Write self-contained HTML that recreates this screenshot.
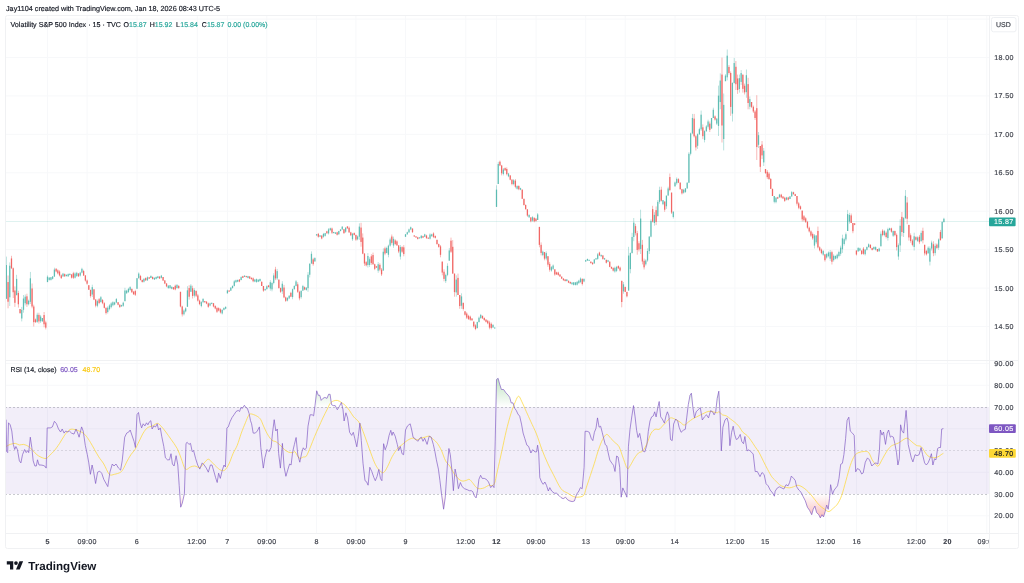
<!DOCTYPE html>
<html><head><meta charset="utf-8"><title>VIX chart</title>
<style>html,body{margin:0;padding:0;background:#fff;width:1024px;height:583px;overflow:hidden}svg{display:block}text{stroke-width:0.16px;text-rendering:geometricPrecision}</style>
</head><body>
<svg width="1024" height="583" viewBox="0 0 1024 583">
<defs>
<clipPath id="cm"><rect x="6" y="16" width="983" height="344"/></clipPath>
<clipPath id="cr"><rect x="6" y="361" width="983" height="172"/></clipPath>
<clipPath id="ct"><rect x="6" y="534" width="983" height="14"/></clipPath>
<linearGradient id="gos" x1="0" y1="494" x2="0" y2="540" gradientUnits="userSpaceOnUse"><stop offset="0" stop-color="#ef5350" stop-opacity="0"/><stop offset="1" stop-color="#ef5350" stop-opacity="0.75"/></linearGradient>
<linearGradient id="gob" x1="0" y1="407" x2="0" y2="370" gradientUnits="userSpaceOnUse"><stop offset="0" stop-color="#4caf50" stop-opacity="0"/><stop offset="1" stop-color="#4caf50" stop-opacity="0.45"/></linearGradient>
</defs>
<rect width="1024" height="583" fill="#fff"/>
<line x1="47.5" y1="16" x2="47.5" y2="533" stroke="#f7f8fa" stroke-width="1"/>
<line x1="87.1" y1="16" x2="87.1" y2="533" stroke="#f7f8fa" stroke-width="1"/>
<line x1="137" y1="16" x2="137" y2="533" stroke="#f7f8fa" stroke-width="1"/>
<line x1="197.3" y1="16" x2="197.3" y2="533" stroke="#f7f8fa" stroke-width="1"/>
<line x1="227.4" y1="16" x2="227.4" y2="533" stroke="#f7f8fa" stroke-width="1"/>
<line x1="266.8" y1="16" x2="266.8" y2="533" stroke="#f7f8fa" stroke-width="1"/>
<line x1="316.6" y1="16" x2="316.6" y2="533" stroke="#f7f8fa" stroke-width="1"/>
<line x1="355.9" y1="16" x2="355.9" y2="533" stroke="#f7f8fa" stroke-width="1"/>
<line x1="405.5" y1="16" x2="405.5" y2="533" stroke="#f7f8fa" stroke-width="1"/>
<line x1="465.8" y1="16" x2="465.8" y2="533" stroke="#f7f8fa" stroke-width="1"/>
<line x1="496.5" y1="16" x2="496.5" y2="533" stroke="#f7f8fa" stroke-width="1"/>
<line x1="536.1" y1="16" x2="536.1" y2="533" stroke="#f7f8fa" stroke-width="1"/>
<line x1="585.7" y1="16" x2="585.7" y2="533" stroke="#f7f8fa" stroke-width="1"/>
<line x1="625.2" y1="16" x2="625.2" y2="533" stroke="#f7f8fa" stroke-width="1"/>
<line x1="675" y1="16" x2="675" y2="533" stroke="#f7f8fa" stroke-width="1"/>
<line x1="734.9" y1="16" x2="734.9" y2="533" stroke="#f7f8fa" stroke-width="1"/>
<line x1="765.5" y1="16" x2="765.5" y2="533" stroke="#f7f8fa" stroke-width="1"/>
<line x1="825.7" y1="16" x2="825.7" y2="533" stroke="#f7f8fa" stroke-width="1"/>
<line x1="856.4" y1="16" x2="856.4" y2="533" stroke="#f7f8fa" stroke-width="1"/>
<line x1="916.3" y1="16" x2="916.3" y2="533" stroke="#f7f8fa" stroke-width="1"/>
<line x1="947.4" y1="16" x2="947.4" y2="533" stroke="#f7f8fa" stroke-width="1"/>
<line x1="986.8" y1="16" x2="986.8" y2="533" stroke="#f7f8fa" stroke-width="1"/>
<line x1="6" y1="19.07" x2="989" y2="19.07" stroke="#f7f8fa" stroke-width="1"/>
<line x1="6" y1="57.50" x2="989" y2="57.50" stroke="#f7f8fa" stroke-width="1"/>
<line x1="6" y1="95.93" x2="989" y2="95.93" stroke="#f7f8fa" stroke-width="1"/>
<line x1="6" y1="134.36" x2="989" y2="134.36" stroke="#f7f8fa" stroke-width="1"/>
<line x1="6" y1="172.79" x2="989" y2="172.79" stroke="#f7f8fa" stroke-width="1"/>
<line x1="6" y1="211.21" x2="989" y2="211.21" stroke="#f7f8fa" stroke-width="1"/>
<line x1="6" y1="249.64" x2="989" y2="249.64" stroke="#f7f8fa" stroke-width="1"/>
<line x1="6" y1="288.07" x2="989" y2="288.07" stroke="#f7f8fa" stroke-width="1"/>
<line x1="6" y1="326.50" x2="989" y2="326.50" stroke="#f7f8fa" stroke-width="1"/>
<line x1="6" y1="363.50" x2="989" y2="363.50" stroke="#f7f8fa" stroke-width="1"/>
<line x1="6" y1="385.25" x2="989" y2="385.25" stroke="#f7f8fa" stroke-width="1"/>
<line x1="6" y1="428.75" x2="989" y2="428.75" stroke="#f7f8fa" stroke-width="1"/>
<line x1="6" y1="472.25" x2="989" y2="472.25" stroke="#f7f8fa" stroke-width="1"/>
<line x1="6" y1="515.75" x2="989" y2="515.75" stroke="#f7f8fa" stroke-width="1"/>
<rect x="6" y="407" width="983" height="87" fill="#7e57c2" fill-opacity="0.1"/>
<line x1="5" y1="407.5" x2="989" y2="407.5" stroke="#787b86" stroke-opacity="0.4" stroke-width="1" stroke-dasharray="2 2"/>
<line x1="5" y1="450.5" x2="989" y2="450.5" stroke="#787b86" stroke-opacity="0.22" stroke-width="1" stroke-dasharray="2 2"/>
<line x1="5" y1="494.5" x2="989" y2="494.5" stroke="#787b86" stroke-opacity="0.4" stroke-width="1" stroke-dasharray="2 2"/>
<polygon points="179.82,494.50 180.70,507.20 182.30,503.10 184.24,494.50" fill="url(#gos)"/>
<polygon points="441.60,494.50 443.60,509.20 445.20,497.90 445.42,494.50" fill="url(#gos)"/>
<polygon points="473.87,494.50 474.40,495.90 476.10,497.90 476.76,494.50" fill="url(#gos)"/>
<polygon points="557.86,494.50 558.80,495.40 561.00,497.60 563.20,498.70 565.50,497.20 567.70,499.90 569.90,501.00 572.20,501.60 574.40,501.00 576.53,494.50" fill="url(#gos)"/>
<polygon points="621.06,494.50 621.20,497.20 621.66,494.50" fill="url(#gos)"/>
<polygon points="625.85,494.50 626.90,497.20 626.98,494.50" fill="url(#gos)"/>
<polygon points="773.47,494.50 774.40,496.20 774.67,494.50" fill="url(#gos)"/>
<polygon points="802.12,494.50 803.10,496.50 805.30,500.80 807.40,507.20 809.60,510.40 811.70,514.70 813.20,509.30 814.90,506.10 816.60,512.60 818.80,514.70 820.30,517.90 822.00,514.70 823.50,516.90 825.20,511.50 826.70,505.10 828.20,509.30 829.50,498.60 829.82,494.50" fill="url(#gos)"/>
<polygon points="243.25,407.00 244.40,405.30 245.53,407.00" fill="url(#gob)"/>
<polygon points="314.81,407.00 315.00,405.60 316.70,390.80 318.30,395.30 319.80,395.30 321.20,400.40 322.90,398.40 324.90,397.40 327.00,398.40 328.60,394.30 330.10,394.30 331.50,404.60 333.20,405.60 335.20,405.60 335.92,407.00" fill="url(#gob)"/>
<polygon points="339.04,407.00 339.30,406.60 341.40,402.50 342.40,407.00" fill="url(#gob)"/>
<polygon points="495.93,407.00 496.50,379.50 498.10,378.30 499.60,383.90 501.40,389.50 503.60,389.50 505.90,392.80 508.10,395.10 509.70,397.30 511.20,402.90 513.00,402.90 514.34,407.00" fill="url(#gob)"/>
<polygon points="633.28,407.00 633.50,405.60 633.70,407.00" fill="url(#gob)"/>
<polygon points="657.94,407.00 659.20,401.50 659.74,407.00" fill="url(#gob)"/>
<polygon points="688.01,407.00 688.30,404.60 690.00,395.30 691.40,393.20 692.84,407.00" fill="url(#gob)"/>
<polygon points="716.24,407.00 717.20,398.40 718.80,391.20 719.70,407.00" fill="url(#gob)"/>
<g clip-path="url(#cr)">
<path fill="none" stroke="#fdd835" stroke-opacity="0.8" stroke-width="0.9" d="M6.10,446.50 C6.78,446.15 8.67,444.92 10.20,444.40 C11.73,443.88 13.77,443.30 15.30,443.40 C16.83,443.50 18.03,444.83 19.40,445.00 C20.77,445.17 21.95,444.15 23.50,444.40 C25.05,444.65 27.15,445.47 28.70,446.50 C30.25,447.53 31.43,449.23 32.80,450.60 C34.17,451.97 35.53,453.60 36.90,454.70 C38.27,455.80 39.45,456.58 41.00,457.20 C42.55,457.82 44.65,458.82 46.20,458.40 C47.75,457.98 48.93,456.00 50.30,454.70 C51.67,453.40 52.85,452.48 54.40,450.60 C55.95,448.72 57.88,445.98 59.60,443.40 C61.32,440.82 63.00,437.40 64.70,435.10 C66.40,432.80 68.08,430.52 69.80,429.60 C71.52,428.68 73.45,429.37 75.00,429.60 C76.55,429.83 77.73,430.42 79.10,431.00 C80.47,431.58 82.00,432.23 83.20,433.10 C84.40,433.97 85.10,434.67 86.30,436.20 C87.50,437.73 89.03,440.08 90.40,442.30 C91.77,444.52 93.12,447.08 94.50,449.50 C95.88,451.92 97.15,454.38 98.70,456.80 C100.25,459.22 102.03,461.08 103.80,464.00 C105.57,466.92 107.53,472.58 109.30,474.30 C111.07,476.02 112.52,474.65 114.40,474.30 C116.28,473.95 119.05,473.23 120.60,472.20 C122.15,471.17 122.68,469.82 123.70,468.10 C124.72,466.38 125.50,464.13 126.70,461.90 C127.90,459.67 129.52,456.77 130.90,454.70 C132.28,452.63 133.63,451.73 135.00,449.50 C136.37,447.27 137.73,444.03 139.10,441.30 C140.47,438.57 141.83,435.33 143.20,433.10 C144.57,430.87 145.75,429.10 147.30,427.90 C148.85,426.70 150.78,426.65 152.50,425.90 C154.22,425.15 156.07,423.23 157.60,423.40 C159.13,423.57 160.33,425.47 161.70,426.90 C163.07,428.33 164.25,429.93 165.80,432.00 C167.35,434.07 169.10,436.55 171.00,439.30 C172.90,442.05 175.48,445.25 177.20,448.50 C178.92,451.75 179.93,455.37 181.30,458.80 C182.67,462.23 183.87,467.73 185.40,469.10 C186.93,470.47 188.95,467.52 190.50,467.00 C192.05,466.48 193.15,465.92 194.70,466.00 C196.25,466.08 198.22,468.02 199.80,467.50 C201.38,466.98 202.78,464.28 204.20,462.90 C205.62,461.52 206.92,459.20 208.30,459.20 C209.68,459.20 211.12,461.60 212.50,462.90 C213.88,464.20 215.23,465.80 216.60,467.00 C217.97,468.20 219.33,469.58 220.70,470.10 C222.07,470.62 223.43,471.12 224.80,470.10 C226.17,469.08 227.53,466.73 228.90,464.00 C230.27,461.27 231.62,456.80 233.00,453.70 C234.38,450.60 235.82,448.83 237.20,445.40 C238.58,441.97 239.93,436.87 241.30,433.10 C242.67,429.33 244.20,425.72 245.40,422.80 C246.60,419.88 247.65,417.08 248.50,415.60 C249.35,414.12 249.65,414.07 250.50,413.90 C251.35,413.73 252.40,414.15 253.60,414.60 C254.80,415.05 256.50,415.75 257.70,416.60 C258.90,417.45 259.77,417.98 260.80,419.70 C261.83,421.42 262.70,424.33 263.90,426.90 C265.10,429.47 266.63,432.87 268.00,435.10 C269.37,437.33 270.73,439.17 272.10,440.30 C273.47,441.43 274.82,441.05 276.20,441.90 C277.58,442.75 279.02,444.13 280.40,445.40 C281.78,446.67 283.13,448.37 284.50,449.50 C285.87,450.63 287.23,451.68 288.60,452.20 C289.97,452.72 291.62,452.65 292.70,452.60 C293.78,452.55 294.02,450.98 295.10,451.90 C296.18,452.82 297.83,457.25 299.20,458.10 C300.57,458.95 302.10,457.35 303.30,457.00 C304.50,456.65 305.20,457.70 306.40,456.00 C307.60,454.30 309.13,450.05 310.50,446.80 C311.87,443.55 313.23,439.77 314.60,436.50 C315.97,433.23 317.32,430.30 318.70,427.20 C320.08,424.10 321.52,420.82 322.90,417.90 C324.28,414.98 325.80,412.10 327.00,409.70 C328.20,407.30 329.07,404.93 330.10,403.50 C331.13,402.07 332.00,401.62 333.20,401.10 C334.40,400.58 335.93,400.17 337.30,400.40 C338.67,400.63 340.03,401.63 341.40,402.50 C342.77,403.37 344.13,404.23 345.50,405.60 C346.87,406.97 348.23,408.82 349.60,410.70 C350.97,412.58 352.15,415.00 353.70,416.90 C355.25,418.80 357.35,419.70 358.90,422.10 C360.45,424.50 361.63,427.88 363.00,431.30 C364.37,434.72 365.73,438.82 367.10,442.60 C368.47,446.38 369.83,450.38 371.20,454.00 C372.57,457.62 373.92,461.57 375.30,464.30 C376.68,467.03 378.12,469.03 379.50,470.40 C380.88,471.77 382.23,473.18 383.60,472.50 C384.97,471.82 386.28,468.92 387.70,466.30 C389.12,463.68 390.50,459.70 392.10,456.80 C393.70,453.90 395.58,450.97 397.30,448.90 C399.02,446.83 400.70,445.83 402.40,444.40 C404.10,442.97 405.78,441.33 407.50,440.30 C409.22,439.27 411.15,438.27 412.70,438.20 C414.25,438.13 415.43,439.90 416.80,439.90 C418.17,439.90 419.53,438.65 420.90,438.20 C422.27,437.75 423.62,437.53 425.00,437.20 C426.38,436.87 427.82,435.85 429.20,436.20 C430.58,436.55 431.93,438.10 433.30,439.30 C434.67,440.50 436.03,441.52 437.40,443.40 C438.77,445.28 440.13,447.68 441.50,450.60 C442.87,453.52 444.23,458.33 445.60,460.90 C446.97,463.47 448.33,463.95 449.70,466.00 C451.07,468.05 452.42,471.13 453.80,473.20 C455.18,475.27 456.62,477.10 458.00,478.40 C459.38,479.70 460.73,480.67 462.10,481.00 C463.47,481.33 465.00,480.67 466.20,480.40 C467.40,480.13 468.27,479.05 469.30,479.40 C470.33,479.75 471.20,481.13 472.40,482.50 C473.60,483.87 475.13,486.57 476.50,487.60 C477.87,488.63 479.23,488.70 480.60,488.70 C481.97,488.70 483.38,488.15 484.70,487.60 C486.02,487.05 486.95,485.95 488.50,485.40 C490.05,484.85 492.52,486.72 494.00,484.30 C495.48,481.88 496.08,476.48 497.40,470.90 C498.72,465.32 500.42,457.50 501.90,450.80 C503.38,444.10 504.82,436.83 506.30,430.70 C507.78,424.57 509.30,418.82 510.80,414.00 C512.30,409.18 514.00,404.77 515.30,401.80 C516.60,398.83 517.50,396.20 518.60,396.20 C519.70,396.20 520.60,399.20 521.90,401.80 C523.20,404.40 524.90,408.47 526.40,411.80 C527.90,415.13 529.22,418.08 530.90,421.80 C532.58,425.52 534.65,429.45 536.50,434.10 C538.35,438.75 540.15,444.87 542.00,449.70 C543.85,454.53 545.73,459.02 547.60,463.10 C549.47,467.18 550.97,469.93 553.20,474.20 C555.43,478.47 558.58,485.53 561.00,488.70 C563.42,491.87 565.65,491.90 567.70,493.20 C569.75,494.50 571.62,495.83 573.30,496.50 C574.98,497.17 576.08,497.38 577.80,497.20 C579.52,497.02 582.20,496.95 583.60,495.40 C585.00,493.85 585.08,491.20 586.20,487.90 C587.32,484.60 588.93,479.72 590.30,475.60 C591.67,471.48 593.03,467.50 594.40,463.20 C595.77,458.90 597.13,453.75 598.50,449.80 C599.87,445.85 601.23,442.07 602.60,439.50 C603.97,436.93 605.32,434.57 606.70,434.40 C608.08,434.23 609.52,437.13 610.90,438.50 C612.28,439.87 613.63,441.22 615.00,442.60 C616.37,443.98 617.73,444.22 619.10,446.80 C620.47,449.38 621.83,454.50 623.20,458.10 C624.57,461.70 626.10,467.20 627.30,468.40 C628.50,469.60 629.20,467.02 630.40,465.30 C631.60,463.58 633.13,460.17 634.50,458.10 C635.87,456.03 637.22,454.10 638.60,452.90 C639.98,451.70 641.42,452.43 642.80,450.90 C644.18,449.37 645.53,446.62 646.90,443.70 C648.27,440.78 649.63,435.80 651.00,433.40 C652.37,431.00 653.73,429.98 655.10,429.30 C656.47,428.62 657.83,430.00 659.20,429.30 C660.57,428.60 661.93,426.48 663.30,425.10 C664.67,423.72 666.20,422.20 667.40,421.00 C668.60,419.80 669.28,418.23 670.50,417.90 C671.72,417.57 673.10,418.30 674.70,419.00 C676.30,419.70 678.52,421.08 680.10,422.10 C681.68,423.12 682.83,425.10 684.20,425.10 C685.57,425.10 686.92,423.12 688.30,422.10 C689.68,421.08 691.12,419.87 692.50,419.00 C693.88,418.13 695.23,417.60 696.60,416.90 C697.97,416.20 699.33,415.48 700.70,414.80 C702.07,414.12 703.43,413.38 704.80,412.80 C706.17,412.22 707.53,411.47 708.90,411.30 C710.27,411.13 711.62,411.55 713.00,411.80 C714.38,412.05 716.17,412.80 717.20,412.80 C718.23,412.80 718.35,411.47 719.20,411.80 C720.05,412.13 721.10,414.12 722.30,414.80 C723.50,415.48 725.03,415.20 726.40,415.90 C727.77,416.60 729.13,417.97 730.50,419.00 C731.87,420.03 733.22,420.90 734.60,422.10 C735.98,423.30 737.42,424.50 738.80,426.20 C740.18,427.90 741.53,430.77 742.90,432.30 C744.27,433.83 745.63,434.02 747.00,435.40 C748.37,436.78 749.73,438.70 751.10,440.60 C752.47,442.50 753.83,444.75 755.20,446.80 C756.57,448.85 757.93,450.50 759.30,452.90 C760.67,455.30 762.02,458.45 763.40,461.20 C764.78,463.95 766.22,466.83 767.60,469.40 C768.98,471.97 770.43,474.77 771.70,476.60 C772.97,478.43 773.90,479.05 775.20,480.40 C776.50,481.75 778.07,483.63 779.50,484.70 C780.93,485.77 782.18,486.27 783.80,486.80 C785.42,487.33 787.58,487.90 789.20,487.90 C790.82,487.90 792.07,487.23 793.50,486.80 C794.93,486.37 796.38,485.30 797.80,485.30 C799.22,485.30 800.58,486.02 802.00,486.80 C803.42,487.58 804.87,488.75 806.30,490.00 C807.73,491.25 809.17,492.68 810.60,494.30 C812.03,495.92 813.47,497.90 814.90,499.70 C816.33,501.50 817.58,503.50 819.20,505.10 C820.82,506.70 822.98,508.23 824.60,509.30 C826.22,510.37 827.47,511.67 828.90,511.50 C830.33,511.33 831.77,509.55 833.20,508.30 C834.63,507.05 836.08,506.15 837.50,504.00 C838.92,501.85 840.28,499.33 841.70,495.40 C843.12,491.47 844.57,485.40 846.00,480.40 C847.43,475.40 848.87,469.52 850.30,465.40 C851.73,461.28 853.17,457.85 854.60,455.70 C856.03,453.55 857.28,453.20 858.90,452.50 C860.52,451.80 862.68,451.50 864.30,451.50 C865.92,451.50 867.28,451.12 868.60,452.50 C869.92,453.88 871.08,457.88 872.20,459.80 C873.32,461.72 874.28,462.97 875.30,464.00 C876.32,465.03 877.10,466.87 878.30,466.00 C879.50,465.13 881.12,461.20 882.50,458.80 C883.88,456.40 885.23,453.65 886.60,451.60 C887.97,449.55 889.33,447.70 890.70,446.50 C892.07,445.30 893.43,445.02 894.80,444.40 C896.17,443.78 897.53,443.55 898.90,442.80 C900.27,442.05 901.62,440.67 903.00,439.90 C904.38,439.13 905.82,437.97 907.20,438.20 C908.58,438.43 909.77,440.10 911.30,441.30 C912.83,442.50 914.77,444.53 916.40,445.40 C918.03,446.27 919.73,445.47 921.10,446.50 C922.47,447.53 923.50,450.07 924.60,451.60 C925.70,453.13 926.67,454.77 927.70,455.70 C928.73,456.63 929.77,456.85 930.80,457.20 C931.83,457.55 932.70,457.87 933.90,457.80 C935.10,457.73 936.80,457.32 938.00,456.80 C939.20,456.28 940.20,455.28 941.10,454.70 C942.00,454.12 943.02,453.53 943.40,453.30"/>
<polyline fill="none" stroke="#7e57c2" stroke-opacity="0.75" stroke-width="0.9" stroke-linejoin="round" points="6.10,419.70 6.70,451.60 7.70,452.60 8.50,422.80 10.20,424.80 11.80,431.00 13.30,444.40 14.70,449.50 15.90,446.50 17.40,449.50 19.40,460.90 20.90,462.90 22.50,454.70 24.60,449.50 26.20,452.60 27.70,450.60 28.70,452.60 30.30,437.20 31.80,447.50 33.20,460.90 34.90,466.00 36.30,466.00 37.50,459.80 39.00,465.00 41.00,465.00 43.10,465.40 44.70,466.00 46.20,468.10 47.20,427.90 50.30,427.90 52.40,426.90 54.40,421.30 56.50,423.80 58.50,429.00 60.60,432.00 62.20,429.00 64.10,433.10 65.70,431.00 67.80,432.00 69.40,431.00 71.50,433.10 74.00,434.10 76.00,429.00 77.70,433.10 79.10,437.20 81.60,426.90 83.20,431.00 85.30,445.40 87.30,454.70 88.80,462.90 90.40,474.30 92.10,465.00 93.50,471.20 95.60,483.50 97.60,472.20 99.70,471.20 101.70,473.20 103.80,479.40 107.80,486.60 109.90,472.20 112.30,464.00 114.00,466.00 116.00,464.00 118.50,468.10 120.60,470.10 122.20,460.90 124.70,437.20 126.70,433.10 128.80,432.00 130.20,430.00 131.90,435.10 134.00,441.30 135.40,447.50 137.00,414.60 138.50,412.50 140.10,422.80 141.60,427.90 143.20,423.80 144.90,425.90 146.50,422.80 147.90,424.80 149.40,421.80 150.80,420.70 152.10,429.00 153.90,425.90 155.60,426.90 157.20,423.80 158.60,430.00 160.30,427.90 161.70,436.20 163.80,446.50 165.40,457.80 167.50,459.80 169.50,459.80 171.00,453.70 172.40,464.00 174.10,466.00 176.10,455.70 177.80,465.00 179.20,485.60 180.70,507.20 182.30,503.10 184.40,493.80 186.00,443.40 187.20,442.30 188.90,444.40 190.50,443.40 192.20,451.60 193.60,450.60 195.70,458.80 197.70,465.00 199.80,469.10 202.20,462.90 204.20,465.00 206.30,468.10 208.30,472.20 210.40,465.00 212.00,465.00 214.10,472.20 215.50,477.30 217.20,482.50 218.60,473.20 220.30,478.40 222.30,470.10 224.00,465.00 225.40,467.00 226.90,427.90 228.30,426.90 230.00,421.80 232.00,417.60 234.10,414.60 236.10,411.50 238.20,410.40 239.60,411.50 240.90,407.40 242.30,408.40 244.40,405.30 245.80,407.40 247.40,408.40 249.10,413.50 250.50,420.70 251.60,423.80 253.20,433.10 255.30,433.10 257.30,431.00 259.40,426.90 260.80,447.50 263.30,468.10 264.90,457.80 267.00,449.50 269.00,451.60 271.10,447.50 272.50,433.10 274.20,419.70 275.80,431.00 277.30,429.00 278.70,453.70 280.40,468.10 282.40,443.40 284.10,467.00 285.90,476.30 288.00,469.10 289.60,464.00 291.10,465.00 292.70,451.60 294.40,444.40 296.10,437.50 297.80,455.00 299.80,462.20 301.90,451.90 303.30,447.80 304.80,449.80 306.40,447.80 308.00,426.20 310.10,414.80 312.20,414.80 313.60,415.90 315.00,405.60 316.70,390.80 318.30,395.30 319.80,395.30 321.20,400.40 322.90,398.40 324.90,397.40 327.00,398.40 328.60,394.30 330.10,394.30 331.50,404.60 333.20,405.60 335.20,405.60 337.30,409.70 339.30,406.60 341.40,402.50 343.00,409.70 344.10,421.00 345.90,412.80 347.60,417.90 349.60,432.30 351.70,435.40 353.30,432.30 354.80,438.50 356.80,446.80 358.30,436.50 359.90,423.10 361.30,440.60 363.00,463.20 365.00,480.70 366.50,481.70 368.10,485.20 369.80,467.30 371.80,471.50 373.90,477.60 375.30,480.70 377.00,476.60 378.80,469.40 380.50,478.70 381.90,480.70 383.60,443.70 385.20,449.80 387.10,444.70 389.10,435.40 390.80,430.30 392.00,435.40 393.10,432.00 395.20,436.20 397.30,444.40 398.70,450.60 400.30,446.50 402.00,453.70 403.60,454.70 405.50,430.00 407.50,425.90 410.20,423.80 411.70,430.00 413.10,437.20 415.80,439.30 417.80,441.30 419.90,438.20 421.30,437.20 423.00,441.30 424.60,438.20 427.10,444.40 429.20,436.20 431.20,437.20 433.30,444.40 434.90,451.60 436.40,459.80 438.40,469.10 439.90,480.40 441.50,493.80 443.60,509.20 445.20,497.90 447.30,466.00 448.90,448.50 450.30,454.70 451.80,469.10 453.40,490.70 455.10,469.10 456.90,477.30 458.40,488.70 460.40,482.50 462.10,486.60 464.50,488.70 467.20,489.70 469.30,490.70 471.30,490.70 472.80,491.70 474.40,495.90 476.10,497.90 477.50,490.70 478.90,479.40 480.60,475.30 482.20,478.40 484.30,478.40 486.40,479.40 488.50,482.00 490.70,487.60 492.50,485.40 494.00,487.60 495.20,441.90 496.50,379.50 498.10,378.30 499.60,383.90 501.40,389.50 503.60,389.50 505.90,392.80 508.10,395.10 509.70,397.30 511.20,402.90 513.00,402.90 514.80,408.40 516.40,410.70 517.90,414.00 519.70,416.20 521.50,424.10 523.10,433.00 524.80,438.50 526.90,445.20 528.60,446.40 530.90,453.00 532.70,449.70 534.90,451.90 536.50,451.90 537.60,445.20 538.70,453.00 539.80,477.60 541.60,482.00 543.20,484.30 544.90,482.00 546.50,485.40 548.30,491.00 549.80,487.60 551.60,491.00 554.30,493.20 556.50,493.20 558.80,495.40 561.00,497.60 563.20,498.70 565.50,497.20 567.70,499.90 569.90,501.00 572.20,501.60 574.40,501.00 576.60,494.30 578.90,491.00 580.40,487.60 582.20,488.70 583.60,473.10 584.10,467.30 585.10,431.30 587.20,431.30 589.30,432.30 591.30,438.50 592.80,440.60 594.40,432.30 596.00,428.20 597.50,417.90 599.10,427.20 600.60,426.20 602.20,432.30 603.70,438.50 605.30,444.70 606.70,445.70 608.20,452.90 609.80,460.10 611.90,463.20 613.50,465.30 615.00,471.50 616.60,456.00 618.10,457.00 619.70,467.30 621.20,497.20 622.80,487.90 624.20,491.00 625.70,494.10 626.90,497.20 628.40,446.80 630.00,429.30 631.90,415.90 633.50,405.60 635.10,416.90 636.60,430.30 638.00,437.50 639.70,433.40 641.30,441.60 642.80,450.90 644.80,451.90 646.90,444.70 648.30,431.30 650.00,421.00 651.60,416.90 653.30,415.90 654.70,411.80 656.10,416.90 657.80,407.60 659.20,401.50 660.70,416.90 662.30,419.00 664.40,423.10 666.00,415.90 667.40,411.80 668.90,415.90 670.50,439.50 672.20,440.60 673.60,424.10 675.70,419.00 677.70,421.00 679.10,427.20 681.10,432.30 683.20,430.30 685.30,429.30 686.70,417.90 688.30,404.60 690.00,395.30 691.40,393.20 692.90,407.60 694.50,417.90 696.20,411.80 698.20,409.70 700.30,407.60 702.30,420.00 704.40,416.90 706.50,414.80 708.50,417.90 710.60,410.70 712.60,411.80 714.10,414.80 715.70,411.80 717.20,398.40 718.80,391.20 720.20,415.90 721.30,450.90 722.90,427.20 725.00,420.00 727.00,417.90 728.50,423.10 729.90,445.70 731.60,432.30 733.20,426.20 734.60,434.40 736.30,439.50 738.10,438.50 740.20,434.40 741.80,441.60 743.50,443.70 744.90,436.50 747.00,450.90 749.00,449.80 751.10,451.90 753.20,454.00 755.20,471.50 757.30,471.50 760.00,476.60 762.00,472.50 764.10,474.50 766.10,483.80 768.20,485.90 770.20,490.00 772.70,493.10 774.40,496.20 775.20,491.10 777.40,487.90 779.50,486.80 781.70,487.90 783.80,489.00 786.00,484.70 788.10,485.80 789.60,482.50 791.30,476.10 793.50,478.30 795.20,480.40 796.70,486.80 798.80,490.00 801.00,492.20 803.10,496.50 805.30,500.80 807.40,507.20 809.60,510.40 811.70,514.70 813.20,509.30 814.90,506.10 816.60,512.60 818.80,514.70 820.30,517.90 822.00,514.70 823.50,516.90 825.20,511.50 826.70,505.10 828.20,509.30 829.50,498.60 830.60,484.70 832.50,494.30 834.20,490.00 835.90,487.90 837.50,485.80 839.00,478.30 840.70,464.30 842.40,463.30 843.90,454.70 845.60,438.60 847.10,420.40 848.80,417.20 850.30,431.10 852.50,433.20 854.20,435.40 855.70,471.80 857.40,468.60 859.60,469.70 861.70,474.00 863.20,472.90 865.30,462.20 867.50,457.90 869.60,460.00 871.80,466.00 873.80,464.00 875.90,462.90 877.90,464.00 879.40,450.60 880.40,430.00 882.00,435.10 883.50,432.00 885.50,444.40 887.20,433.10 888.60,430.00 890.30,437.20 891.70,436.20 893.40,437.20 894.80,443.40 896.50,452.60 897.90,465.00 899.30,458.80 900.60,424.80 902.00,431.00 903.70,433.10 905.10,419.70 906.10,410.40 907.20,423.80 908.20,444.40 909.60,450.60 911.30,457.80 912.90,461.90 915.00,454.70 917.00,455.70 919.10,454.70 921.10,447.50 922.60,454.70 924.60,462.90 926.30,465.00 928.10,462.90 929.80,458.80 931.40,453.70 932.90,465.00 934.50,458.80 936.00,459.80 937.60,448.50 939.00,447.50 940.50,447.50 941.70,429.00 943.40,428.60"/>
</g>
<line x1="6" y1="221.5" x2="989" y2="221.5" stroke="#26a69a" stroke-opacity="0.15" stroke-width="1"/>
<g clip-path="url(#cm)">
<rect x="5.94" y="256.60" width="0.8" height="42.20" fill="#26a69a" fill-opacity="0.4"/>
<rect x="5.69" y="265.04" width="1.3" height="33.76" fill="#26a69a" fill-opacity="0.62"/>
<rect x="7.65" y="275.50" width="0.8" height="32.80" fill="#ef5350" fill-opacity="0.5"/>
<rect x="7.40" y="282.06" width="1.3" height="19.68" fill="#ef5350" fill-opacity="0.8"/>
<rect x="9.37" y="262.40" width="0.8" height="43.60" fill="#26a69a" fill-opacity="0.4"/>
<rect x="9.12" y="265.70" width="1.3" height="31.58" fill="#26a69a" fill-opacity="0.62"/>
<rect x="11.08" y="255.80" width="0.8" height="13.20" fill="#ef5350" fill-opacity="0.5"/>
<rect x="10.83" y="258.44" width="1.3" height="9.81" fill="#ef5350" fill-opacity="0.8"/>
<rect x="12.80" y="267.50" width="0.8" height="30.50" fill="#ef5350" fill-opacity="0.5"/>
<rect x="12.55" y="268.25" width="1.3" height="23.95" fill="#ef5350" fill-opacity="0.8"/>
<rect x="14.51" y="286.40" width="0.8" height="20.50" fill="#ef5350" fill-opacity="0.5"/>
<rect x="14.26" y="290.50" width="1.3" height="12.30" fill="#ef5350" fill-opacity="0.8"/>
<rect x="16.23" y="274.80" width="0.8" height="20.40" fill="#26a69a" fill-opacity="0.4"/>
<rect x="15.98" y="278.88" width="1.3" height="16.32" fill="#26a69a" fill-opacity="0.62"/>
<rect x="17.95" y="290.80" width="0.8" height="16.80" fill="#ef5350" fill-opacity="0.5"/>
<rect x="17.70" y="293.00" width="1.3" height="11.24" fill="#ef5350" fill-opacity="0.8"/>
<rect x="19.66" y="309.00" width="0.8" height="5.00" fill="#ef5350" fill-opacity="0.5"/>
<rect x="19.41" y="309.00" width="1.3" height="4.00" fill="#ef5350" fill-opacity="0.8"/>
<rect x="21.38" y="306.90" width="0.8" height="14.50" fill="#26a69a" fill-opacity="0.4"/>
<rect x="21.12" y="309.80" width="1.3" height="8.70" fill="#26a69a" fill-opacity="0.62"/>
<rect x="23.09" y="295.00" width="0.8" height="17.70" fill="#26a69a" fill-opacity="0.4"/>
<rect x="22.84" y="298.54" width="1.3" height="11.26" fill="#26a69a" fill-opacity="0.62"/>
<rect x="24.80" y="294.50" width="0.8" height="10.90" fill="#26a69a" fill-opacity="0.4"/>
<rect x="24.55" y="296.68" width="1.3" height="6.54" fill="#26a69a" fill-opacity="0.62"/>
<rect x="26.52" y="293.70" width="0.8" height="13.20" fill="#ef5350" fill-opacity="0.5"/>
<rect x="26.27" y="296.34" width="1.3" height="7.92" fill="#ef5350" fill-opacity="0.8"/>
<rect x="28.23" y="299.60" width="0.8" height="5.80" fill="#26a69a" fill-opacity="0.4"/>
<rect x="27.98" y="300.76" width="1.3" height="3.48" fill="#26a69a" fill-opacity="0.62"/>
<rect x="29.95" y="271.90" width="0.8" height="32.10" fill="#26a69a" fill-opacity="0.4"/>
<rect x="29.70" y="278.32" width="1.3" height="23.48" fill="#26a69a" fill-opacity="0.62"/>
<rect x="31.66" y="283.50" width="0.8" height="24.80" fill="#ef5350" fill-opacity="0.5"/>
<rect x="31.41" y="288.46" width="1.3" height="18.04" fill="#ef5350" fill-opacity="0.8"/>
<rect x="33.38" y="304.70" width="0.8" height="21.80" fill="#ef5350" fill-opacity="0.5"/>
<rect x="33.13" y="306.50" width="1.3" height="15.64" fill="#ef5350" fill-opacity="0.8"/>
<rect x="35.09" y="318.50" width="0.8" height="4.50" fill="#ef5350" fill-opacity="0.5"/>
<rect x="34.84" y="319.40" width="1.3" height="2.70" fill="#ef5350" fill-opacity="0.8"/>
<rect x="36.81" y="312.70" width="0.8" height="10.20" fill="#26a69a" fill-opacity="0.4"/>
<rect x="36.56" y="314.74" width="1.3" height="7.13" fill="#26a69a" fill-opacity="0.62"/>
<rect x="38.52" y="312.70" width="0.8" height="10.90" fill="#ef5350" fill-opacity="0.5"/>
<rect x="38.27" y="314.88" width="1.3" height="6.54" fill="#ef5350" fill-opacity="0.8"/>
<rect x="40.24" y="314.90" width="0.8" height="8.00" fill="#26a69a" fill-opacity="0.4"/>
<rect x="39.99" y="316.50" width="1.3" height="4.80" fill="#26a69a" fill-opacity="0.62"/>
<rect x="41.95" y="318.00" width="0.8" height="4.00" fill="#26a69a" fill-opacity="0.4"/>
<rect x="41.70" y="318.00" width="1.3" height="3.20" fill="#26a69a" fill-opacity="0.62"/>
<rect x="43.67" y="312.00" width="0.8" height="15.30" fill="#ef5350" fill-opacity="0.5"/>
<rect x="43.42" y="315.06" width="1.3" height="9.18" fill="#ef5350" fill-opacity="0.8"/>
<rect x="45.38" y="320.70" width="0.8" height="8.70" fill="#ef5350" fill-opacity="0.5"/>
<rect x="45.13" y="322.44" width="1.3" height="5.22" fill="#ef5350" fill-opacity="0.8"/>
<rect x="47.10" y="275.40" width="0.8" height="6.70" fill="#26a69a" fill-opacity="0.4"/>
<rect x="46.85" y="276.74" width="1.3" height="5.36" fill="#26a69a" fill-opacity="0.62"/>
<rect x="48.82" y="277.00" width="0.8" height="3.60" fill="#26a69a" fill-opacity="0.4"/>
<rect x="48.57" y="277.72" width="1.3" height="2.16" fill="#26a69a" fill-opacity="0.62"/>
<rect x="50.54" y="277.00" width="0.8" height="3.60" fill="#26a69a" fill-opacity="0.4"/>
<rect x="50.29" y="277.30" width="1.3" height="2.58" fill="#26a69a" fill-opacity="0.62"/>
<rect x="52.26" y="276.00" width="0.8" height="3.50" fill="#26a69a" fill-opacity="0.4"/>
<rect x="52.01" y="276.50" width="1.3" height="2.30" fill="#26a69a" fill-opacity="0.62"/>
<rect x="53.98" y="267.70" width="0.8" height="9.30" fill="#26a69a" fill-opacity="0.4"/>
<rect x="53.73" y="269.56" width="1.3" height="6.94" fill="#26a69a" fill-opacity="0.62"/>
<rect x="55.71" y="268.00" width="0.8" height="4.30" fill="#ef5350" fill-opacity="0.5"/>
<rect x="55.46" y="268.86" width="1.3" height="2.58" fill="#ef5350" fill-opacity="0.8"/>
<rect x="57.43" y="269.30" width="0.8" height="5.10" fill="#ef5350" fill-opacity="0.5"/>
<rect x="57.18" y="270.32" width="1.3" height="3.06" fill="#ef5350" fill-opacity="0.8"/>
<rect x="59.15" y="270.30" width="0.8" height="6.20" fill="#ef5350" fill-opacity="0.5"/>
<rect x="58.90" y="271.54" width="1.3" height="3.91" fill="#ef5350" fill-opacity="0.8"/>
<rect x="60.87" y="274.40" width="0.8" height="4.60" fill="#ef5350" fill-opacity="0.5"/>
<rect x="60.62" y="275.32" width="1.3" height="2.76" fill="#ef5350" fill-opacity="0.8"/>
<rect x="62.59" y="272.90" width="0.8" height="3.60" fill="#26a69a" fill-opacity="0.4"/>
<rect x="62.34" y="273.62" width="1.3" height="2.88" fill="#26a69a" fill-opacity="0.62"/>
<rect x="64.31" y="273.40" width="0.8" height="3.60" fill="#ef5350" fill-opacity="0.5"/>
<rect x="64.06" y="274.12" width="1.3" height="2.16" fill="#ef5350" fill-opacity="0.8"/>
<rect x="66.03" y="274.40" width="0.8" height="2.10" fill="#26a69a" fill-opacity="0.4"/>
<rect x="65.78" y="274.82" width="1.3" height="1.26" fill="#26a69a" fill-opacity="0.62"/>
<rect x="67.75" y="273.40" width="0.8" height="3.60" fill="#26a69a" fill-opacity="0.4"/>
<rect x="67.50" y="274.12" width="1.3" height="2.16" fill="#26a69a" fill-opacity="0.62"/>
<rect x="69.47" y="273.40" width="0.8" height="2.00" fill="#26a69a" fill-opacity="0.4"/>
<rect x="69.22" y="273.80" width="1.3" height="1.20" fill="#26a69a" fill-opacity="0.62"/>
<rect x="71.20" y="274.40" width="0.8" height="4.10" fill="#ef5350" fill-opacity="0.5"/>
<rect x="70.95" y="274.40" width="1.3" height="3.28" fill="#ef5350" fill-opacity="0.8"/>
<rect x="72.92" y="271.80" width="0.8" height="7.20" fill="#ef5350" fill-opacity="0.5"/>
<rect x="72.67" y="273.24" width="1.3" height="4.49" fill="#ef5350" fill-opacity="0.8"/>
<rect x="74.64" y="272.30" width="0.8" height="6.20" fill="#26a69a" fill-opacity="0.4"/>
<rect x="74.39" y="273.54" width="1.3" height="4.19" fill="#26a69a" fill-opacity="0.62"/>
<rect x="76.36" y="271.80" width="0.8" height="5.20" fill="#26a69a" fill-opacity="0.4"/>
<rect x="76.11" y="272.84" width="1.3" height="3.12" fill="#26a69a" fill-opacity="0.62"/>
<rect x="78.08" y="273.40" width="0.8" height="3.60" fill="#ef5350" fill-opacity="0.5"/>
<rect x="77.83" y="273.40" width="1.3" height="2.88" fill="#ef5350" fill-opacity="0.8"/>
<rect x="79.80" y="271.80" width="0.8" height="4.70" fill="#26a69a" fill-opacity="0.4"/>
<rect x="79.55" y="272.60" width="1.3" height="2.96" fill="#26a69a" fill-opacity="0.62"/>
<rect x="81.52" y="267.70" width="0.8" height="5.70" fill="#26a69a" fill-opacity="0.4"/>
<rect x="81.27" y="268.84" width="1.3" height="3.76" fill="#26a69a" fill-opacity="0.62"/>
<rect x="83.24" y="269.80" width="0.8" height="6.20" fill="#ef5350" fill-opacity="0.5"/>
<rect x="82.99" y="271.04" width="1.3" height="4.46" fill="#ef5350" fill-opacity="0.8"/>
<rect x="84.97" y="275.00" width="0.8" height="6.60" fill="#ef5350" fill-opacity="0.5"/>
<rect x="84.72" y="275.50" width="1.3" height="5.05" fill="#ef5350" fill-opacity="0.8"/>
<rect x="86.69" y="279.50" width="0.8" height="5.20" fill="#ef5350" fill-opacity="0.5"/>
<rect x="86.44" y="280.54" width="1.3" height="3.12" fill="#ef5350" fill-opacity="0.8"/>
<rect x="88.41" y="285.20" width="0.8" height="4.60" fill="#ef5350" fill-opacity="0.5"/>
<rect x="88.16" y="285.20" width="1.3" height="4.60" fill="#ef5350" fill-opacity="0.8"/>
<rect x="90.13" y="289.80" width="0.8" height="7.80" fill="#ef5350" fill-opacity="0.5"/>
<rect x="89.88" y="289.80" width="1.3" height="6.24" fill="#ef5350" fill-opacity="0.8"/>
<rect x="91.85" y="284.70" width="0.8" height="12.30" fill="#26a69a" fill-opacity="0.4"/>
<rect x="91.60" y="287.16" width="1.3" height="7.38" fill="#26a69a" fill-opacity="0.62"/>
<rect x="93.57" y="289.30" width="0.8" height="10.80" fill="#ef5350" fill-opacity="0.5"/>
<rect x="93.32" y="289.30" width="1.3" height="10.25" fill="#ef5350" fill-opacity="0.8"/>
<rect x="95.29" y="299.00" width="0.8" height="8.30" fill="#ef5350" fill-opacity="0.5"/>
<rect x="95.04" y="299.55" width="1.3" height="6.09" fill="#ef5350" fill-opacity="0.8"/>
<rect x="97.01" y="299.60" width="0.8" height="7.70" fill="#26a69a" fill-opacity="0.4"/>
<rect x="96.76" y="301.14" width="1.3" height="4.62" fill="#26a69a" fill-opacity="0.62"/>
<rect x="98.73" y="298.00" width="0.8" height="6.20" fill="#ef5350" fill-opacity="0.5"/>
<rect x="98.48" y="299.24" width="1.3" height="3.81" fill="#ef5350" fill-opacity="0.8"/>
<rect x="100.46" y="296.00" width="0.8" height="6.20" fill="#26a69a" fill-opacity="0.4"/>
<rect x="100.21" y="297.24" width="1.3" height="4.96" fill="#26a69a" fill-opacity="0.62"/>
<rect x="102.18" y="299.00" width="0.8" height="5.20" fill="#ef5350" fill-opacity="0.5"/>
<rect x="101.93" y="300.04" width="1.3" height="3.16" fill="#ef5350" fill-opacity="0.8"/>
<rect x="103.90" y="302.20" width="0.8" height="6.20" fill="#ef5350" fill-opacity="0.5"/>
<rect x="103.65" y="303.20" width="1.3" height="4.65" fill="#ef5350" fill-opacity="0.8"/>
<rect x="105.62" y="307.30" width="0.8" height="7.20" fill="#ef5350" fill-opacity="0.5"/>
<rect x="105.37" y="307.85" width="1.3" height="5.21" fill="#ef5350" fill-opacity="0.8"/>
<rect x="107.34" y="306.30" width="0.8" height="7.20" fill="#26a69a" fill-opacity="0.4"/>
<rect x="107.09" y="307.74" width="1.3" height="4.32" fill="#26a69a" fill-opacity="0.62"/>
<rect x="109.06" y="304.20" width="0.8" height="6.20" fill="#26a69a" fill-opacity="0.4"/>
<rect x="108.81" y="305.44" width="1.3" height="3.72" fill="#26a69a" fill-opacity="0.62"/>
<rect x="110.78" y="302.20" width="0.8" height="6.20" fill="#26a69a" fill-opacity="0.4"/>
<rect x="110.53" y="303.44" width="1.3" height="3.72" fill="#26a69a" fill-opacity="0.62"/>
<rect x="112.50" y="301.20" width="0.8" height="5.10" fill="#26a69a" fill-opacity="0.4"/>
<rect x="112.25" y="302.22" width="1.3" height="3.06" fill="#26a69a" fill-opacity="0.62"/>
<rect x="114.22" y="301.70" width="0.8" height="3.60" fill="#26a69a" fill-opacity="0.4"/>
<rect x="113.97" y="302.42" width="1.3" height="2.16" fill="#26a69a" fill-opacity="0.62"/>
<rect x="115.95" y="298.00" width="0.8" height="5.20" fill="#26a69a" fill-opacity="0.4"/>
<rect x="115.70" y="299.04" width="1.3" height="3.41" fill="#26a69a" fill-opacity="0.62"/>
<rect x="117.67" y="302.20" width="0.8" height="3.10" fill="#ef5350" fill-opacity="0.5"/>
<rect x="117.42" y="302.20" width="1.3" height="2.55" fill="#ef5350" fill-opacity="0.8"/>
<rect x="119.39" y="304.20" width="0.8" height="3.60" fill="#ef5350" fill-opacity="0.5"/>
<rect x="119.14" y="304.75" width="1.3" height="2.33" fill="#ef5350" fill-opacity="0.8"/>
<rect x="121.11" y="304.70" width="0.8" height="2.10" fill="#26a69a" fill-opacity="0.4"/>
<rect x="120.86" y="305.12" width="1.3" height="1.26" fill="#26a69a" fill-opacity="0.62"/>
<rect x="122.83" y="301.70" width="0.8" height="5.10" fill="#26a69a" fill-opacity="0.4"/>
<rect x="122.58" y="302.72" width="1.3" height="3.06" fill="#26a69a" fill-opacity="0.62"/>
<rect x="124.55" y="287.80" width="0.8" height="13.40" fill="#26a69a" fill-opacity="0.4"/>
<rect x="124.30" y="290.48" width="1.3" height="10.72" fill="#26a69a" fill-opacity="0.62"/>
<rect x="126.27" y="289.80" width="0.8" height="4.20" fill="#26a69a" fill-opacity="0.4"/>
<rect x="126.02" y="290.64" width="1.3" height="2.52" fill="#26a69a" fill-opacity="0.62"/>
<rect x="127.99" y="287.80" width="0.8" height="5.20" fill="#26a69a" fill-opacity="0.4"/>
<rect x="127.74" y="288.84" width="1.3" height="3.12" fill="#26a69a" fill-opacity="0.62"/>
<rect x="129.72" y="286.20" width="0.8" height="4.70" fill="#26a69a" fill-opacity="0.4"/>
<rect x="129.47" y="287.14" width="1.3" height="2.82" fill="#26a69a" fill-opacity="0.62"/>
<rect x="131.44" y="288.80" width="0.8" height="4.20" fill="#ef5350" fill-opacity="0.5"/>
<rect x="131.19" y="288.80" width="1.3" height="3.36" fill="#ef5350" fill-opacity="0.8"/>
<rect x="133.16" y="290.90" width="0.8" height="4.10" fill="#ef5350" fill-opacity="0.5"/>
<rect x="132.91" y="291.72" width="1.3" height="2.46" fill="#ef5350" fill-opacity="0.8"/>
<rect x="134.88" y="289.80" width="0.8" height="6.20" fill="#ef5350" fill-opacity="0.5"/>
<rect x="134.63" y="291.04" width="1.3" height="3.72" fill="#ef5350" fill-opacity="0.8"/>
<rect x="136.60" y="278.00" width="0.8" height="10.80" fill="#26a69a" fill-opacity="0.4"/>
<rect x="136.35" y="278.25" width="1.3" height="10.55" fill="#26a69a" fill-opacity="0.62"/>
<rect x="138.34" y="272.30" width="0.8" height="6.20" fill="#26a69a" fill-opacity="0.4"/>
<rect x="138.09" y="273.54" width="1.3" height="4.71" fill="#26a69a" fill-opacity="0.62"/>
<rect x="140.08" y="274.90" width="0.8" height="5.60" fill="#ef5350" fill-opacity="0.5"/>
<rect x="139.83" y="276.02" width="1.3" height="3.98" fill="#ef5350" fill-opacity="0.8"/>
<rect x="141.82" y="279.50" width="0.8" height="3.10" fill="#ef5350" fill-opacity="0.5"/>
<rect x="141.57" y="280.00" width="1.3" height="1.98" fill="#ef5350" fill-opacity="0.8"/>
<rect x="143.55" y="278.00" width="0.8" height="4.60" fill="#26a69a" fill-opacity="0.4"/>
<rect x="143.30" y="278.92" width="1.3" height="2.76" fill="#26a69a" fill-opacity="0.62"/>
<rect x="145.29" y="277.40" width="0.8" height="3.60" fill="#ef5350" fill-opacity="0.5"/>
<rect x="145.04" y="278.12" width="1.3" height="2.16" fill="#ef5350" fill-opacity="0.8"/>
<rect x="147.03" y="276.40" width="0.8" height="4.60" fill="#26a69a" fill-opacity="0.4"/>
<rect x="146.78" y="277.32" width="1.3" height="2.93" fill="#26a69a" fill-opacity="0.62"/>
<rect x="148.77" y="277.00" width="0.8" height="2.00" fill="#ef5350" fill-opacity="0.5"/>
<rect x="148.52" y="277.40" width="1.3" height="1.20" fill="#ef5350" fill-opacity="0.8"/>
<rect x="150.51" y="275.40" width="0.8" height="2.60" fill="#26a69a" fill-opacity="0.4"/>
<rect x="150.26" y="275.92" width="1.3" height="2.08" fill="#26a69a" fill-opacity="0.62"/>
<rect x="152.25" y="276.40" width="0.8" height="3.10" fill="#ef5350" fill-opacity="0.5"/>
<rect x="152.00" y="277.02" width="1.3" height="1.86" fill="#ef5350" fill-opacity="0.8"/>
<rect x="153.98" y="277.40" width="0.8" height="2.60" fill="#26a69a" fill-opacity="0.4"/>
<rect x="153.73" y="277.85" width="1.3" height="1.63" fill="#26a69a" fill-opacity="0.62"/>
<rect x="155.72" y="276.40" width="0.8" height="3.10" fill="#26a69a" fill-opacity="0.4"/>
<rect x="155.47" y="277.02" width="1.3" height="1.86" fill="#26a69a" fill-opacity="0.62"/>
<rect x="157.46" y="275.90" width="0.8" height="2.60" fill="#26a69a" fill-opacity="0.4"/>
<rect x="157.21" y="276.42" width="1.3" height="1.56" fill="#26a69a" fill-opacity="0.62"/>
<rect x="159.20" y="276.40" width="0.8" height="2.60" fill="#ef5350" fill-opacity="0.5"/>
<rect x="158.95" y="276.51" width="1.3" height="1.97" fill="#ef5350" fill-opacity="0.8"/>
<rect x="160.94" y="274.90" width="0.8" height="3.60" fill="#26a69a" fill-opacity="0.4"/>
<rect x="160.69" y="275.62" width="1.3" height="2.16" fill="#26a69a" fill-opacity="0.62"/>
<rect x="162.68" y="277.00" width="0.8" height="4.00" fill="#ef5350" fill-opacity="0.5"/>
<rect x="162.43" y="277.00" width="1.3" height="3.50" fill="#ef5350" fill-opacity="0.8"/>
<rect x="164.42" y="280.00" width="0.8" height="4.10" fill="#ef5350" fill-opacity="0.5"/>
<rect x="164.17" y="280.50" width="1.3" height="3.05" fill="#ef5350" fill-opacity="0.8"/>
<rect x="166.15" y="283.00" width="0.8" height="4.20" fill="#ef5350" fill-opacity="0.5"/>
<rect x="165.90" y="283.55" width="1.3" height="2.81" fill="#ef5350" fill-opacity="0.8"/>
<rect x="167.89" y="285.20" width="0.8" height="3.60" fill="#26a69a" fill-opacity="0.4"/>
<rect x="167.64" y="285.60" width="1.3" height="2.48" fill="#26a69a" fill-opacity="0.62"/>
<rect x="169.63" y="285.20" width="0.8" height="3.60" fill="#26a69a" fill-opacity="0.4"/>
<rect x="169.38" y="285.20" width="1.3" height="2.88" fill="#26a69a" fill-opacity="0.62"/>
<rect x="171.37" y="286.70" width="0.8" height="2.60" fill="#26a69a" fill-opacity="0.4"/>
<rect x="171.12" y="286.70" width="1.3" height="2.08" fill="#26a69a" fill-opacity="0.62"/>
<rect x="173.11" y="287.20" width="0.8" height="2.60" fill="#ef5350" fill-opacity="0.5"/>
<rect x="172.86" y="287.20" width="1.3" height="2.08" fill="#ef5350" fill-opacity="0.8"/>
<rect x="174.85" y="284.60" width="0.8" height="5.70" fill="#ef5350" fill-opacity="0.5"/>
<rect x="174.60" y="285.74" width="1.3" height="3.66" fill="#ef5350" fill-opacity="0.8"/>
<rect x="176.58" y="284.10" width="0.8" height="4.10" fill="#26a69a" fill-opacity="0.4"/>
<rect x="176.33" y="284.92" width="1.3" height="3.28" fill="#26a69a" fill-opacity="0.62"/>
<rect x="178.32" y="285.20" width="0.8" height="3.60" fill="#ef5350" fill-opacity="0.5"/>
<rect x="178.07" y="285.92" width="1.3" height="2.16" fill="#ef5350" fill-opacity="0.8"/>
<rect x="180.06" y="291.80" width="0.8" height="15.50" fill="#ef5350" fill-opacity="0.5"/>
<rect x="179.81" y="291.80" width="1.3" height="14.70" fill="#ef5350" fill-opacity="0.8"/>
<rect x="181.80" y="305.70" width="0.8" height="10.80" fill="#ef5350" fill-opacity="0.5"/>
<rect x="181.55" y="306.50" width="1.3" height="7.84" fill="#ef5350" fill-opacity="0.8"/>
<rect x="183.54" y="309.30" width="0.8" height="6.20" fill="#26a69a" fill-opacity="0.4"/>
<rect x="183.29" y="310.54" width="1.3" height="3.72" fill="#26a69a" fill-opacity="0.62"/>
<rect x="185.28" y="307.30" width="0.8" height="5.10" fill="#26a69a" fill-opacity="0.4"/>
<rect x="185.03" y="308.32" width="1.3" height="3.06" fill="#26a69a" fill-opacity="0.62"/>
<rect x="187.02" y="286.20" width="0.8" height="20.60" fill="#26a69a" fill-opacity="0.4"/>
<rect x="186.77" y="290.32" width="1.3" height="16.48" fill="#26a69a" fill-opacity="0.62"/>
<rect x="188.75" y="285.20" width="0.8" height="14.40" fill="#ef5350" fill-opacity="0.5"/>
<rect x="188.50" y="288.08" width="1.3" height="8.64" fill="#ef5350" fill-opacity="0.8"/>
<rect x="190.49" y="284.10" width="0.8" height="7.70" fill="#26a69a" fill-opacity="0.4"/>
<rect x="190.24" y="285.64" width="1.3" height="6.16" fill="#26a69a" fill-opacity="0.62"/>
<rect x="192.23" y="285.70" width="0.8" height="12.80" fill="#ef5350" fill-opacity="0.5"/>
<rect x="191.98" y="288.26" width="1.3" height="7.68" fill="#ef5350" fill-opacity="0.8"/>
<rect x="193.97" y="288.20" width="0.8" height="9.30" fill="#26a69a" fill-opacity="0.4"/>
<rect x="193.72" y="290.06" width="1.3" height="5.58" fill="#26a69a" fill-opacity="0.62"/>
<rect x="195.71" y="290.80" width="0.8" height="6.20" fill="#ef5350" fill-opacity="0.5"/>
<rect x="195.46" y="290.80" width="1.3" height="4.96" fill="#ef5350" fill-opacity="0.8"/>
<rect x="197.45" y="293.90" width="0.8" height="7.70" fill="#ef5350" fill-opacity="0.5"/>
<rect x="197.20" y="295.44" width="1.3" height="5.16" fill="#ef5350" fill-opacity="0.8"/>
<rect x="199.18" y="299.60" width="0.8" height="5.60" fill="#ef5350" fill-opacity="0.5"/>
<rect x="198.93" y="300.60" width="1.3" height="3.48" fill="#ef5350" fill-opacity="0.8"/>
<rect x="200.92" y="301.10" width="0.8" height="6.20" fill="#26a69a" fill-opacity="0.4"/>
<rect x="200.67" y="302.15" width="1.3" height="3.91" fill="#26a69a" fill-opacity="0.62"/>
<rect x="202.66" y="298.00" width="0.8" height="5.20" fill="#26a69a" fill-opacity="0.4"/>
<rect x="202.41" y="299.04" width="1.3" height="3.12" fill="#26a69a" fill-opacity="0.62"/>
<rect x="204.40" y="301.10" width="0.8" height="1.50" fill="#ef5350" fill-opacity="0.5"/>
<rect x="204.15" y="301.10" width="1.3" height="1.20" fill="#ef5350" fill-opacity="0.8"/>
<rect x="206.14" y="301.10" width="0.8" height="3.10" fill="#ef5350" fill-opacity="0.5"/>
<rect x="205.89" y="301.72" width="1.3" height="1.86" fill="#ef5350" fill-opacity="0.8"/>
<rect x="207.88" y="302.60" width="0.8" height="5.20" fill="#ef5350" fill-opacity="0.5"/>
<rect x="207.63" y="303.40" width="1.3" height="3.36" fill="#ef5350" fill-opacity="0.8"/>
<rect x="209.62" y="302.60" width="0.8" height="3.70" fill="#26a69a" fill-opacity="0.4"/>
<rect x="209.37" y="303.34" width="1.3" height="2.22" fill="#26a69a" fill-opacity="0.62"/>
<rect x="211.35" y="302.60" width="0.8" height="1.60" fill="#26a69a" fill-opacity="0.4"/>
<rect x="211.10" y="302.80" width="1.3" height="1.08" fill="#26a69a" fill-opacity="0.62"/>
<rect x="213.09" y="303.20" width="0.8" height="4.10" fill="#ef5350" fill-opacity="0.5"/>
<rect x="212.84" y="303.20" width="1.3" height="3.28" fill="#ef5350" fill-opacity="0.8"/>
<rect x="214.83" y="305.20" width="0.8" height="4.10" fill="#ef5350" fill-opacity="0.5"/>
<rect x="214.58" y="306.02" width="1.3" height="2.46" fill="#ef5350" fill-opacity="0.8"/>
<rect x="216.57" y="306.80" width="0.8" height="6.20" fill="#ef5350" fill-opacity="0.5"/>
<rect x="216.32" y="308.04" width="1.3" height="3.72" fill="#ef5350" fill-opacity="0.8"/>
<rect x="218.31" y="307.30" width="0.8" height="4.10" fill="#ef5350" fill-opacity="0.5"/>
<rect x="218.06" y="308.12" width="1.3" height="2.46" fill="#ef5350" fill-opacity="0.8"/>
<rect x="220.05" y="308.30" width="0.8" height="5.20" fill="#ef5350" fill-opacity="0.5"/>
<rect x="219.80" y="309.34" width="1.3" height="3.12" fill="#ef5350" fill-opacity="0.8"/>
<rect x="221.78" y="309.30" width="0.8" height="5.20" fill="#26a69a" fill-opacity="0.4"/>
<rect x="221.53" y="309.85" width="1.3" height="3.61" fill="#26a69a" fill-opacity="0.62"/>
<rect x="223.52" y="307.30" width="0.8" height="3.10" fill="#26a69a" fill-opacity="0.4"/>
<rect x="223.27" y="307.92" width="1.3" height="1.93" fill="#26a69a" fill-opacity="0.62"/>
<rect x="225.26" y="306.30" width="0.8" height="3.00" fill="#26a69a" fill-opacity="0.4"/>
<rect x="225.01" y="306.90" width="1.3" height="1.80" fill="#26a69a" fill-opacity="0.62"/>
<rect x="227.00" y="289.70" width="0.8" height="3.70" fill="#26a69a" fill-opacity="0.4"/>
<rect x="226.75" y="290.44" width="1.3" height="2.96" fill="#26a69a" fill-opacity="0.62"/>
<rect x="228.72" y="290.20" width="0.8" height="1.60" fill="#ef5350" fill-opacity="0.5"/>
<rect x="228.47" y="290.52" width="1.3" height="1.08" fill="#ef5350" fill-opacity="0.8"/>
<rect x="230.43" y="287.00" width="0.8" height="3.70" fill="#26a69a" fill-opacity="0.4"/>
<rect x="230.18" y="287.74" width="1.3" height="2.96" fill="#26a69a" fill-opacity="0.62"/>
<rect x="232.15" y="285.40" width="0.8" height="3.20" fill="#26a69a" fill-opacity="0.4"/>
<rect x="231.90" y="285.95" width="1.3" height="2.01" fill="#26a69a" fill-opacity="0.62"/>
<rect x="233.86" y="280.10" width="0.8" height="6.40" fill="#26a69a" fill-opacity="0.4"/>
<rect x="233.61" y="281.38" width="1.3" height="4.57" fill="#26a69a" fill-opacity="0.62"/>
<rect x="235.58" y="279.60" width="0.8" height="3.20" fill="#26a69a" fill-opacity="0.4"/>
<rect x="235.33" y="280.24" width="1.3" height="1.92" fill="#26a69a" fill-opacity="0.62"/>
<rect x="237.29" y="279.60" width="0.8" height="2.60" fill="#26a69a" fill-opacity="0.4"/>
<rect x="237.04" y="279.93" width="1.3" height="1.75" fill="#26a69a" fill-opacity="0.62"/>
<rect x="239.01" y="279.00" width="0.8" height="3.20" fill="#ef5350" fill-opacity="0.5"/>
<rect x="238.76" y="279.64" width="1.3" height="1.92" fill="#ef5350" fill-opacity="0.8"/>
<rect x="240.72" y="276.40" width="0.8" height="3.70" fill="#26a69a" fill-opacity="0.4"/>
<rect x="240.47" y="277.14" width="1.3" height="2.96" fill="#26a69a" fill-opacity="0.62"/>
<rect x="242.44" y="275.80" width="0.8" height="2.20" fill="#ef5350" fill-opacity="0.5"/>
<rect x="242.19" y="276.24" width="1.3" height="1.56" fill="#ef5350" fill-opacity="0.8"/>
<rect x="244.15" y="275.30" width="0.8" height="1.60" fill="#26a69a" fill-opacity="0.4"/>
<rect x="243.90" y="275.62" width="1.3" height="1.28" fill="#26a69a" fill-opacity="0.62"/>
<rect x="245.87" y="275.80" width="0.8" height="1.60" fill="#ef5350" fill-opacity="0.5"/>
<rect x="245.62" y="276.09" width="1.3" height="1.00" fill="#ef5350" fill-opacity="0.8"/>
<rect x="247.58" y="275.80" width="0.8" height="2.70" fill="#26a69a" fill-opacity="0.4"/>
<rect x="247.33" y="276.15" width="1.3" height="1.81" fill="#26a69a" fill-opacity="0.62"/>
<rect x="249.30" y="276.40" width="0.8" height="2.60" fill="#ef5350" fill-opacity="0.5"/>
<rect x="249.05" y="276.40" width="1.3" height="2.08" fill="#ef5350" fill-opacity="0.8"/>
<rect x="251.02" y="277.40" width="0.8" height="2.20" fill="#ef5350" fill-opacity="0.5"/>
<rect x="250.77" y="277.84" width="1.3" height="1.32" fill="#ef5350" fill-opacity="0.8"/>
<rect x="252.73" y="277.40" width="0.8" height="4.80" fill="#ef5350" fill-opacity="0.5"/>
<rect x="252.48" y="278.36" width="1.3" height="2.88" fill="#ef5350" fill-opacity="0.8"/>
<rect x="254.45" y="279.00" width="0.8" height="3.20" fill="#26a69a" fill-opacity="0.4"/>
<rect x="254.20" y="279.64" width="1.3" height="1.92" fill="#26a69a" fill-opacity="0.62"/>
<rect x="256.16" y="278.50" width="0.8" height="4.30" fill="#26a69a" fill-opacity="0.4"/>
<rect x="255.91" y="279.15" width="1.3" height="2.79" fill="#26a69a" fill-opacity="0.62"/>
<rect x="257.88" y="279.60" width="0.8" height="2.60" fill="#26a69a" fill-opacity="0.4"/>
<rect x="257.63" y="279.60" width="1.3" height="2.08" fill="#26a69a" fill-opacity="0.62"/>
<rect x="259.59" y="278.50" width="0.8" height="3.20" fill="#26a69a" fill-opacity="0.4"/>
<rect x="259.34" y="279.00" width="1.3" height="2.06" fill="#26a69a" fill-opacity="0.62"/>
<rect x="261.31" y="281.70" width="0.8" height="4.30" fill="#ef5350" fill-opacity="0.5"/>
<rect x="261.06" y="281.70" width="1.3" height="4.30" fill="#ef5350" fill-opacity="0.8"/>
<rect x="263.02" y="286.00" width="0.8" height="5.80" fill="#ef5350" fill-opacity="0.5"/>
<rect x="262.77" y="286.00" width="1.3" height="4.64" fill="#ef5350" fill-opacity="0.8"/>
<rect x="264.74" y="288.60" width="0.8" height="2.10" fill="#26a69a" fill-opacity="0.4"/>
<rect x="264.49" y="289.02" width="1.3" height="1.26" fill="#26a69a" fill-opacity="0.62"/>
<rect x="266.45" y="285.40" width="0.8" height="4.30" fill="#26a69a" fill-opacity="0.4"/>
<rect x="266.20" y="286.26" width="1.3" height="2.79" fill="#26a69a" fill-opacity="0.62"/>
<rect x="268.17" y="284.90" width="0.8" height="2.60" fill="#ef5350" fill-opacity="0.5"/>
<rect x="267.92" y="285.42" width="1.3" height="1.63" fill="#ef5350" fill-opacity="0.8"/>
<rect x="269.88" y="280.10" width="0.8" height="10.60" fill="#26a69a" fill-opacity="0.4"/>
<rect x="269.63" y="282.22" width="1.3" height="6.36" fill="#26a69a" fill-opacity="0.62"/>
<rect x="271.60" y="281.70" width="0.8" height="9.60" fill="#26a69a" fill-opacity="0.4"/>
<rect x="271.35" y="283.00" width="1.3" height="6.38" fill="#26a69a" fill-opacity="0.62"/>
<rect x="273.32" y="273.20" width="0.8" height="11.10" fill="#26a69a" fill-opacity="0.4"/>
<rect x="273.07" y="275.42" width="1.3" height="7.58" fill="#26a69a" fill-opacity="0.62"/>
<rect x="275.03" y="266.80" width="0.8" height="13.30" fill="#ef5350" fill-opacity="0.5"/>
<rect x="274.78" y="269.46" width="1.3" height="8.91" fill="#ef5350" fill-opacity="0.8"/>
<rect x="276.75" y="268.90" width="0.8" height="11.20" fill="#26a69a" fill-opacity="0.4"/>
<rect x="276.50" y="271.14" width="1.3" height="7.24" fill="#26a69a" fill-opacity="0.62"/>
<rect x="278.46" y="279.60" width="0.8" height="9.00" fill="#ef5350" fill-opacity="0.5"/>
<rect x="278.21" y="279.60" width="1.3" height="8.45" fill="#ef5350" fill-opacity="0.8"/>
<rect x="280.18" y="287.50" width="0.8" height="5.40" fill="#ef5350" fill-opacity="0.5"/>
<rect x="279.93" y="288.05" width="1.3" height="3.77" fill="#ef5350" fill-opacity="0.8"/>
<rect x="281.89" y="281.20" width="0.8" height="12.70" fill="#26a69a" fill-opacity="0.4"/>
<rect x="281.64" y="283.74" width="1.3" height="7.62" fill="#26a69a" fill-opacity="0.62"/>
<rect x="283.61" y="284.90" width="0.8" height="13.30" fill="#ef5350" fill-opacity="0.5"/>
<rect x="283.36" y="287.56" width="1.3" height="9.84" fill="#ef5350" fill-opacity="0.8"/>
<rect x="285.32" y="296.60" width="0.8" height="5.30" fill="#ef5350" fill-opacity="0.5"/>
<rect x="285.07" y="297.40" width="1.3" height="3.44" fill="#ef5350" fill-opacity="0.8"/>
<rect x="287.04" y="297.10" width="0.8" height="4.30" fill="#26a69a" fill-opacity="0.4"/>
<rect x="286.79" y="297.96" width="1.3" height="2.58" fill="#26a69a" fill-opacity="0.62"/>
<rect x="288.75" y="295.00" width="0.8" height="4.20" fill="#26a69a" fill-opacity="0.4"/>
<rect x="288.50" y="295.84" width="1.3" height="2.52" fill="#26a69a" fill-opacity="0.62"/>
<rect x="290.47" y="291.80" width="0.8" height="5.30" fill="#ef5350" fill-opacity="0.5"/>
<rect x="290.22" y="292.86" width="1.3" height="3.79" fill="#ef5350" fill-opacity="0.8"/>
<rect x="292.18" y="288.60" width="0.8" height="10.60" fill="#26a69a" fill-opacity="0.4"/>
<rect x="291.93" y="289.15" width="1.3" height="7.93" fill="#26a69a" fill-opacity="0.62"/>
<rect x="293.90" y="285.40" width="0.8" height="4.30" fill="#26a69a" fill-opacity="0.4"/>
<rect x="293.65" y="285.95" width="1.3" height="3.20" fill="#26a69a" fill-opacity="0.62"/>
<rect x="295.62" y="280.10" width="0.8" height="6.40" fill="#26a69a" fill-opacity="0.4"/>
<rect x="295.37" y="281.38" width="1.3" height="4.57" fill="#26a69a" fill-opacity="0.62"/>
<rect x="297.33" y="282.20" width="0.8" height="10.70" fill="#ef5350" fill-opacity="0.5"/>
<rect x="297.08" y="284.34" width="1.3" height="7.46" fill="#ef5350" fill-opacity="0.8"/>
<rect x="299.05" y="290.70" width="0.8" height="9.60" fill="#ef5350" fill-opacity="0.5"/>
<rect x="298.80" y="291.80" width="1.3" height="6.58" fill="#ef5350" fill-opacity="0.8"/>
<rect x="300.76" y="290.70" width="0.8" height="8.00" fill="#26a69a" fill-opacity="0.4"/>
<rect x="300.51" y="290.70" width="1.3" height="6.40" fill="#26a69a" fill-opacity="0.62"/>
<rect x="302.48" y="284.90" width="0.8" height="5.80" fill="#26a69a" fill-opacity="0.4"/>
<rect x="302.23" y="286.06" width="1.3" height="4.64" fill="#26a69a" fill-opacity="0.62"/>
<rect x="304.19" y="286.50" width="0.8" height="3.70" fill="#ef5350" fill-opacity="0.5"/>
<rect x="303.94" y="287.24" width="1.3" height="2.22" fill="#ef5350" fill-opacity="0.8"/>
<rect x="305.91" y="287.00" width="0.8" height="3.70" fill="#26a69a" fill-opacity="0.4"/>
<rect x="305.66" y="287.74" width="1.3" height="2.22" fill="#26a69a" fill-opacity="0.62"/>
<rect x="307.62" y="272.10" width="0.8" height="19.70" fill="#26a69a" fill-opacity="0.4"/>
<rect x="307.37" y="274.75" width="1.3" height="13.39" fill="#26a69a" fill-opacity="0.62"/>
<rect x="309.34" y="263.60" width="0.8" height="13.80" fill="#26a69a" fill-opacity="0.4"/>
<rect x="309.09" y="263.60" width="1.3" height="11.15" fill="#26a69a" fill-opacity="0.62"/>
<rect x="311.05" y="251.40" width="0.8" height="12.20" fill="#26a69a" fill-opacity="0.4"/>
<rect x="310.80" y="253.84" width="1.3" height="9.76" fill="#26a69a" fill-opacity="0.62"/>
<rect x="312.77" y="257.80" width="0.8" height="7.90" fill="#ef5350" fill-opacity="0.5"/>
<rect x="312.52" y="259.38" width="1.3" height="4.74" fill="#ef5350" fill-opacity="0.8"/>
<rect x="314.48" y="257.20" width="0.8" height="4.30" fill="#26a69a" fill-opacity="0.4"/>
<rect x="314.23" y="258.06" width="1.3" height="3.44" fill="#26a69a" fill-opacity="0.62"/>
<rect x="316.20" y="234.00" width="0.8" height="1.50" fill="#26a69a" fill-opacity="0.4"/>
<rect x="315.95" y="234.30" width="1.3" height="1.20" fill="#26a69a" fill-opacity="0.62"/>
<rect x="317.91" y="232.90" width="0.8" height="4.80" fill="#ef5350" fill-opacity="0.5"/>
<rect x="317.66" y="233.86" width="1.3" height="2.88" fill="#ef5350" fill-opacity="0.8"/>
<rect x="319.62" y="235.00" width="0.8" height="2.10" fill="#26a69a" fill-opacity="0.4"/>
<rect x="319.37" y="235.42" width="1.3" height="1.26" fill="#26a69a" fill-opacity="0.62"/>
<rect x="321.33" y="235.50" width="0.8" height="3.80" fill="#ef5350" fill-opacity="0.5"/>
<rect x="321.08" y="235.50" width="1.3" height="3.04" fill="#ef5350" fill-opacity="0.8"/>
<rect x="323.04" y="232.90" width="0.8" height="4.80" fill="#26a69a" fill-opacity="0.4"/>
<rect x="322.79" y="233.86" width="1.3" height="2.88" fill="#26a69a" fill-opacity="0.62"/>
<rect x="324.75" y="232.90" width="0.8" height="3.70" fill="#26a69a" fill-opacity="0.4"/>
<rect x="324.50" y="233.15" width="1.3" height="2.71" fill="#26a69a" fill-opacity="0.62"/>
<rect x="326.46" y="230.80" width="0.8" height="2.60" fill="#ef5350" fill-opacity="0.5"/>
<rect x="326.21" y="231.32" width="1.3" height="2.08" fill="#ef5350" fill-opacity="0.8"/>
<rect x="328.17" y="228.10" width="0.8" height="6.40" fill="#26a69a" fill-opacity="0.4"/>
<rect x="327.92" y="229.38" width="1.3" height="4.02" fill="#26a69a" fill-opacity="0.62"/>
<rect x="329.88" y="227.60" width="0.8" height="3.20" fill="#26a69a" fill-opacity="0.4"/>
<rect x="329.63" y="228.24" width="1.3" height="1.92" fill="#26a69a" fill-opacity="0.62"/>
<rect x="331.59" y="227.60" width="0.8" height="6.40" fill="#ef5350" fill-opacity="0.5"/>
<rect x="331.34" y="228.52" width="1.3" height="4.20" fill="#ef5350" fill-opacity="0.8"/>
<rect x="333.30" y="231.80" width="0.8" height="1.60" fill="#26a69a" fill-opacity="0.4"/>
<rect x="333.05" y="232.00" width="1.3" height="1.08" fill="#26a69a" fill-opacity="0.62"/>
<rect x="335.01" y="232.40" width="0.8" height="1.60" fill="#26a69a" fill-opacity="0.4"/>
<rect x="334.76" y="232.40" width="1.3" height="1.28" fill="#26a69a" fill-opacity="0.62"/>
<rect x="336.72" y="231.80" width="0.8" height="3.70" fill="#ef5350" fill-opacity="0.5"/>
<rect x="336.47" y="232.40" width="1.3" height="2.36" fill="#ef5350" fill-opacity="0.8"/>
<rect x="338.43" y="230.80" width="0.8" height="4.20" fill="#26a69a" fill-opacity="0.4"/>
<rect x="338.18" y="231.05" width="1.3" height="3.11" fill="#26a69a" fill-opacity="0.62"/>
<rect x="340.13" y="229.20" width="0.8" height="2.10" fill="#26a69a" fill-opacity="0.4"/>
<rect x="339.88" y="229.45" width="1.3" height="1.60" fill="#26a69a" fill-opacity="0.62"/>
<rect x="341.84" y="226.00" width="0.8" height="3.70" fill="#26a69a" fill-opacity="0.4"/>
<rect x="341.59" y="226.74" width="1.3" height="2.71" fill="#26a69a" fill-opacity="0.62"/>
<rect x="343.55" y="229.20" width="0.8" height="4.80" fill="#ef5350" fill-opacity="0.5"/>
<rect x="343.30" y="229.20" width="1.3" height="3.84" fill="#ef5350" fill-opacity="0.8"/>
<rect x="345.26" y="227.00" width="0.8" height="5.90" fill="#26a69a" fill-opacity="0.4"/>
<rect x="345.01" y="227.80" width="1.3" height="3.92" fill="#26a69a" fill-opacity="0.62"/>
<rect x="346.97" y="226.00" width="0.8" height="2.60" fill="#ef5350" fill-opacity="0.5"/>
<rect x="346.72" y="226.52" width="1.3" height="1.88" fill="#ef5350" fill-opacity="0.8"/>
<rect x="348.68" y="226.50" width="0.8" height="6.40" fill="#ef5350" fill-opacity="0.5"/>
<rect x="348.43" y="227.78" width="1.3" height="4.57" fill="#ef5350" fill-opacity="0.8"/>
<rect x="350.39" y="231.80" width="0.8" height="4.30" fill="#ef5350" fill-opacity="0.5"/>
<rect x="350.14" y="232.35" width="1.3" height="2.89" fill="#ef5350" fill-opacity="0.8"/>
<rect x="352.10" y="232.90" width="0.8" height="8.00" fill="#26a69a" fill-opacity="0.4"/>
<rect x="351.85" y="233.70" width="1.3" height="5.60" fill="#26a69a" fill-opacity="0.62"/>
<rect x="353.81" y="232.40" width="0.8" height="3.10" fill="#ef5350" fill-opacity="0.5"/>
<rect x="353.56" y="233.02" width="1.3" height="1.98" fill="#ef5350" fill-opacity="0.8"/>
<rect x="355.52" y="234.50" width="0.8" height="6.40" fill="#ef5350" fill-opacity="0.5"/>
<rect x="355.27" y="235.00" width="1.3" height="4.62" fill="#ef5350" fill-opacity="0.8"/>
<rect x="357.23" y="235.50" width="0.8" height="4.80" fill="#26a69a" fill-opacity="0.4"/>
<rect x="356.98" y="236.46" width="1.3" height="2.88" fill="#26a69a" fill-opacity="0.62"/>
<rect x="358.94" y="223.30" width="0.8" height="16.50" fill="#26a69a" fill-opacity="0.4"/>
<rect x="358.69" y="226.60" width="1.3" height="10.10" fill="#26a69a" fill-opacity="0.62"/>
<rect x="360.65" y="222.80" width="0.8" height="23.90" fill="#ef5350" fill-opacity="0.5"/>
<rect x="360.40" y="227.58" width="1.3" height="14.34" fill="#ef5350" fill-opacity="0.8"/>
<rect x="362.36" y="233.40" width="0.8" height="20.80" fill="#ef5350" fill-opacity="0.5"/>
<rect x="362.11" y="237.56" width="1.3" height="16.09" fill="#ef5350" fill-opacity="0.8"/>
<rect x="364.07" y="253.10" width="0.8" height="12.80" fill="#ef5350" fill-opacity="0.5"/>
<rect x="363.82" y="253.65" width="1.3" height="9.85" fill="#ef5350" fill-opacity="0.8"/>
<rect x="365.78" y="261.10" width="0.8" height="5.30" fill="#ef5350" fill-opacity="0.5"/>
<rect x="365.53" y="262.16" width="1.3" height="3.18" fill="#ef5350" fill-opacity="0.8"/>
<rect x="367.49" y="253.10" width="0.8" height="14.40" fill="#26a69a" fill-opacity="0.4"/>
<rect x="367.24" y="255.98" width="1.3" height="8.97" fill="#26a69a" fill-opacity="0.62"/>
<rect x="369.20" y="257.30" width="0.8" height="9.60" fill="#26a69a" fill-opacity="0.4"/>
<rect x="368.95" y="259.22" width="1.3" height="5.76" fill="#26a69a" fill-opacity="0.62"/>
<rect x="370.91" y="254.20" width="0.8" height="10.60" fill="#ef5350" fill-opacity="0.5"/>
<rect x="370.66" y="256.32" width="1.3" height="6.61" fill="#ef5350" fill-opacity="0.8"/>
<rect x="372.62" y="252.60" width="0.8" height="12.20" fill="#ef5350" fill-opacity="0.5"/>
<rect x="372.37" y="255.04" width="1.3" height="9.21" fill="#ef5350" fill-opacity="0.8"/>
<rect x="374.33" y="263.70" width="0.8" height="6.40" fill="#ef5350" fill-opacity="0.5"/>
<rect x="374.08" y="264.25" width="1.3" height="4.57" fill="#ef5350" fill-opacity="0.8"/>
<rect x="376.04" y="265.90" width="0.8" height="2.10" fill="#ef5350" fill-opacity="0.5"/>
<rect x="375.79" y="266.32" width="1.3" height="1.26" fill="#ef5350" fill-opacity="0.8"/>
<rect x="377.75" y="262.10" width="0.8" height="10.70" fill="#26a69a" fill-opacity="0.4"/>
<rect x="377.50" y="264.24" width="1.3" height="6.42" fill="#26a69a" fill-opacity="0.62"/>
<rect x="379.46" y="263.20" width="0.8" height="8.00" fill="#ef5350" fill-opacity="0.5"/>
<rect x="379.21" y="264.80" width="1.3" height="4.80" fill="#ef5350" fill-opacity="0.8"/>
<rect x="381.17" y="268.00" width="0.8" height="8.00" fill="#ef5350" fill-opacity="0.5"/>
<rect x="380.92" y="269.60" width="1.3" height="4.80" fill="#ef5350" fill-opacity="0.8"/>
<rect x="382.88" y="248.30" width="0.8" height="22.30" fill="#26a69a" fill-opacity="0.4"/>
<rect x="382.62" y="251.75" width="1.3" height="18.85" fill="#26a69a" fill-opacity="0.62"/>
<rect x="384.58" y="246.70" width="0.8" height="8.50" fill="#ef5350" fill-opacity="0.5"/>
<rect x="384.33" y="248.40" width="1.3" height="5.10" fill="#ef5350" fill-opacity="0.8"/>
<rect x="386.29" y="246.70" width="0.8" height="6.40" fill="#26a69a" fill-opacity="0.4"/>
<rect x="386.04" y="247.98" width="1.3" height="5.12" fill="#26a69a" fill-opacity="0.62"/>
<rect x="388.00" y="244.60" width="0.8" height="12.70" fill="#26a69a" fill-opacity="0.4"/>
<rect x="387.75" y="245.65" width="1.3" height="9.11" fill="#26a69a" fill-opacity="0.62"/>
<rect x="389.71" y="237.70" width="0.8" height="9.00" fill="#26a69a" fill-opacity="0.4"/>
<rect x="389.46" y="239.50" width="1.3" height="6.15" fill="#26a69a" fill-opacity="0.62"/>
<rect x="391.42" y="234.50" width="0.8" height="10.10" fill="#ef5350" fill-opacity="0.5"/>
<rect x="391.17" y="236.52" width="1.3" height="6.35" fill="#ef5350" fill-opacity="0.8"/>
<rect x="393.13" y="236.60" width="0.8" height="11.20" fill="#26a69a" fill-opacity="0.4"/>
<rect x="392.88" y="238.84" width="1.3" height="6.72" fill="#26a69a" fill-opacity="0.62"/>
<rect x="394.84" y="239.30" width="0.8" height="5.80" fill="#ef5350" fill-opacity="0.5"/>
<rect x="394.59" y="240.46" width="1.3" height="3.48" fill="#ef5350" fill-opacity="0.8"/>
<rect x="396.55" y="240.30" width="0.8" height="5.40" fill="#ef5350" fill-opacity="0.5"/>
<rect x="396.30" y="241.38" width="1.3" height="4.02" fill="#ef5350" fill-opacity="0.8"/>
<rect x="398.26" y="245.10" width="0.8" height="8.00" fill="#ef5350" fill-opacity="0.5"/>
<rect x="398.01" y="245.40" width="1.3" height="6.10" fill="#ef5350" fill-opacity="0.8"/>
<rect x="399.97" y="245.10" width="0.8" height="14.40" fill="#26a69a" fill-opacity="0.4"/>
<rect x="399.72" y="247.10" width="1.3" height="9.52" fill="#26a69a" fill-opacity="0.62"/>
<rect x="401.68" y="246.20" width="0.8" height="6.90" fill="#ef5350" fill-opacity="0.5"/>
<rect x="401.43" y="247.10" width="1.3" height="4.62" fill="#ef5350" fill-opacity="0.8"/>
<rect x="403.39" y="245.10" width="0.8" height="11.20" fill="#ef5350" fill-opacity="0.5"/>
<rect x="403.14" y="247.34" width="1.3" height="6.72" fill="#ef5350" fill-opacity="0.8"/>
<rect x="405.10" y="234.00" width="0.8" height="2.80" fill="#26a69a" fill-opacity="0.4"/>
<rect x="404.85" y="234.35" width="1.3" height="2.45" fill="#26a69a" fill-opacity="0.62"/>
<rect x="406.85" y="231.60" width="0.8" height="3.10" fill="#26a69a" fill-opacity="0.4"/>
<rect x="406.60" y="232.22" width="1.3" height="2.13" fill="#26a69a" fill-opacity="0.62"/>
<rect x="408.60" y="228.50" width="0.8" height="4.50" fill="#26a69a" fill-opacity="0.4"/>
<rect x="408.35" y="229.35" width="1.3" height="2.95" fill="#26a69a" fill-opacity="0.62"/>
<rect x="410.35" y="226.50" width="0.8" height="3.70" fill="#26a69a" fill-opacity="0.4"/>
<rect x="410.10" y="227.24" width="1.3" height="2.22" fill="#26a69a" fill-opacity="0.62"/>
<rect x="412.10" y="228.50" width="0.8" height="4.50" fill="#ef5350" fill-opacity="0.5"/>
<rect x="411.85" y="228.50" width="1.3" height="3.60" fill="#ef5350" fill-opacity="0.8"/>
<rect x="413.85" y="235.40" width="0.8" height="1.40" fill="#ef5350" fill-opacity="0.5"/>
<rect x="413.60" y="235.40" width="1.3" height="1.12" fill="#ef5350" fill-opacity="0.8"/>
<rect x="415.60" y="236.10" width="0.8" height="1.70" fill="#ef5350" fill-opacity="0.5"/>
<rect x="415.35" y="236.44" width="1.3" height="1.02" fill="#ef5350" fill-opacity="0.8"/>
<rect x="417.35" y="236.80" width="0.8" height="2.70" fill="#ef5350" fill-opacity="0.5"/>
<rect x="417.10" y="237.30" width="1.3" height="1.66" fill="#ef5350" fill-opacity="0.8"/>
<rect x="419.10" y="237.35" width="0.8" height="1.20" fill="#26a69a" fill-opacity="0.4"/>
<rect x="418.85" y="237.34" width="1.3" height="1.00" fill="#26a69a" fill-opacity="0.62"/>
<rect x="420.85" y="235.00" width="0.8" height="3.80" fill="#26a69a" fill-opacity="0.4"/>
<rect x="420.60" y="235.76" width="1.3" height="2.28" fill="#26a69a" fill-opacity="0.62"/>
<rect x="422.60" y="235.70" width="0.8" height="2.40" fill="#ef5350" fill-opacity="0.5"/>
<rect x="422.35" y="236.18" width="1.3" height="1.44" fill="#ef5350" fill-opacity="0.8"/>
<rect x="424.35" y="233.70" width="0.8" height="3.10" fill="#26a69a" fill-opacity="0.4"/>
<rect x="424.10" y="234.32" width="1.3" height="2.48" fill="#26a69a" fill-opacity="0.62"/>
<rect x="426.10" y="234.70" width="0.8" height="4.10" fill="#ef5350" fill-opacity="0.5"/>
<rect x="425.85" y="235.52" width="1.3" height="2.58" fill="#ef5350" fill-opacity="0.8"/>
<rect x="427.85" y="237.40" width="0.8" height="1.40" fill="#ef5350" fill-opacity="0.5"/>
<rect x="427.60" y="237.68" width="1.3" height="1.02" fill="#ef5350" fill-opacity="0.8"/>
<rect x="429.60" y="233.30" width="0.8" height="6.20" fill="#26a69a" fill-opacity="0.4"/>
<rect x="429.35" y="234.54" width="1.3" height="4.16" fill="#26a69a" fill-opacity="0.62"/>
<rect x="431.35" y="233.70" width="0.8" height="3.10" fill="#26a69a" fill-opacity="0.4"/>
<rect x="431.10" y="234.32" width="1.3" height="1.86" fill="#26a69a" fill-opacity="0.62"/>
<rect x="433.10" y="232.30" width="0.8" height="5.80" fill="#ef5350" fill-opacity="0.5"/>
<rect x="432.85" y="233.46" width="1.3" height="3.48" fill="#ef5350" fill-opacity="0.8"/>
<rect x="434.85" y="235.40" width="0.8" height="3.10" fill="#ef5350" fill-opacity="0.5"/>
<rect x="434.60" y="236.02" width="1.3" height="1.86" fill="#ef5350" fill-opacity="0.8"/>
<rect x="436.60" y="239.80" width="0.8" height="4.80" fill="#ef5350" fill-opacity="0.5"/>
<rect x="436.35" y="239.80" width="1.3" height="4.30" fill="#ef5350" fill-opacity="0.8"/>
<rect x="438.35" y="243.60" width="0.8" height="4.10" fill="#ef5350" fill-opacity="0.5"/>
<rect x="438.10" y="244.10" width="1.3" height="2.78" fill="#ef5350" fill-opacity="0.8"/>
<rect x="440.10" y="245.00" width="0.8" height="12.30" fill="#ef5350" fill-opacity="0.5"/>
<rect x="439.85" y="246.35" width="1.3" height="8.49" fill="#ef5350" fill-opacity="0.8"/>
<rect x="441.85" y="261.60" width="0.8" height="13.70" fill="#ef5350" fill-opacity="0.5"/>
<rect x="441.60" y="261.60" width="1.3" height="10.96" fill="#ef5350" fill-opacity="0.8"/>
<rect x="443.60" y="269.30" width="0.8" height="12.00" fill="#ef5350" fill-opacity="0.5"/>
<rect x="443.35" y="271.70" width="1.3" height="7.20" fill="#ef5350" fill-opacity="0.8"/>
<rect x="445.35" y="273.60" width="0.8" height="9.40" fill="#26a69a" fill-opacity="0.4"/>
<rect x="445.10" y="274.90" width="1.3" height="6.22" fill="#26a69a" fill-opacity="0.62"/>
<rect x="447.10" y="263.30" width="0.8" height="12.90" fill="#26a69a" fill-opacity="0.4"/>
<rect x="446.85" y="265.88" width="1.3" height="9.02" fill="#26a69a" fill-opacity="0.62"/>
<rect x="448.85" y="247.90" width="0.8" height="12.80" fill="#26a69a" fill-opacity="0.4"/>
<rect x="448.60" y="250.45" width="1.3" height="10.25" fill="#26a69a" fill-opacity="0.62"/>
<rect x="450.60" y="237.60" width="0.8" height="15.40" fill="#ef5350" fill-opacity="0.5"/>
<rect x="450.35" y="240.68" width="1.3" height="11.04" fill="#ef5350" fill-opacity="0.8"/>
<rect x="452.35" y="240.10" width="0.8" height="33.50" fill="#ef5350" fill-opacity="0.5"/>
<rect x="452.10" y="246.80" width="1.3" height="26.80" fill="#ef5350" fill-opacity="0.8"/>
<rect x="454.10" y="273.60" width="0.8" height="23.10" fill="#ef5350" fill-opacity="0.5"/>
<rect x="453.85" y="273.60" width="1.3" height="18.48" fill="#ef5350" fill-opacity="0.8"/>
<rect x="455.85" y="275.30" width="0.8" height="21.40" fill="#26a69a" fill-opacity="0.4"/>
<rect x="455.60" y="279.58" width="1.3" height="12.84" fill="#26a69a" fill-opacity="0.62"/>
<rect x="457.60" y="273.60" width="0.8" height="21.40" fill="#ef5350" fill-opacity="0.5"/>
<rect x="457.35" y="277.88" width="1.3" height="17.12" fill="#ef5350" fill-opacity="0.8"/>
<rect x="459.35" y="295.00" width="0.8" height="13.80" fill="#ef5350" fill-opacity="0.5"/>
<rect x="459.10" y="295.00" width="1.3" height="11.04" fill="#ef5350" fill-opacity="0.8"/>
<rect x="461.10" y="293.30" width="0.8" height="15.50" fill="#26a69a" fill-opacity="0.4"/>
<rect x="460.85" y="296.40" width="1.3" height="9.30" fill="#26a69a" fill-opacity="0.62"/>
<rect x="462.85" y="302.80" width="0.8" height="7.70" fill="#ef5350" fill-opacity="0.5"/>
<rect x="462.60" y="302.80" width="1.3" height="6.16" fill="#ef5350" fill-opacity="0.8"/>
<rect x="464.60" y="311.30" width="0.8" height="4.30" fill="#ef5350" fill-opacity="0.5"/>
<rect x="464.35" y="311.30" width="1.3" height="3.44" fill="#ef5350" fill-opacity="0.8"/>
<rect x="466.35" y="312.20" width="0.8" height="6.80" fill="#ef5350" fill-opacity="0.5"/>
<rect x="466.10" y="313.56" width="1.3" height="4.08" fill="#ef5350" fill-opacity="0.8"/>
<rect x="468.10" y="314.80" width="0.8" height="5.20" fill="#ef5350" fill-opacity="0.5"/>
<rect x="467.85" y="315.84" width="1.3" height="3.12" fill="#ef5350" fill-opacity="0.8"/>
<rect x="469.85" y="315.60" width="0.8" height="5.20" fill="#ef5350" fill-opacity="0.5"/>
<rect x="469.60" y="316.64" width="1.3" height="3.12" fill="#ef5350" fill-opacity="0.8"/>
<rect x="471.60" y="318.00" width="0.8" height="2.80" fill="#ef5350" fill-opacity="0.5"/>
<rect x="471.35" y="318.56" width="1.3" height="1.68" fill="#ef5350" fill-opacity="0.8"/>
<rect x="473.35" y="321.60" width="0.8" height="6.00" fill="#ef5350" fill-opacity="0.5"/>
<rect x="473.10" y="321.60" width="1.3" height="4.80" fill="#ef5350" fill-opacity="0.8"/>
<rect x="475.10" y="324.20" width="0.8" height="6.00" fill="#ef5350" fill-opacity="0.5"/>
<rect x="474.85" y="325.40" width="1.3" height="3.60" fill="#ef5350" fill-opacity="0.8"/>
<rect x="476.85" y="321.60" width="0.8" height="6.90" fill="#26a69a" fill-opacity="0.4"/>
<rect x="476.60" y="322.05" width="1.3" height="6.00" fill="#26a69a" fill-opacity="0.62"/>
<rect x="478.60" y="316.50" width="0.8" height="6.00" fill="#26a69a" fill-opacity="0.4"/>
<rect x="478.35" y="317.70" width="1.3" height="4.35" fill="#26a69a" fill-opacity="0.62"/>
<rect x="480.35" y="313.90" width="0.8" height="5.10" fill="#26a69a" fill-opacity="0.4"/>
<rect x="480.10" y="314.92" width="1.3" height="3.06" fill="#26a69a" fill-opacity="0.62"/>
<rect x="482.10" y="315.60" width="0.8" height="3.40" fill="#ef5350" fill-opacity="0.5"/>
<rect x="481.85" y="315.82" width="1.3" height="2.50" fill="#ef5350" fill-opacity="0.8"/>
<rect x="483.85" y="317.30" width="0.8" height="3.50" fill="#ef5350" fill-opacity="0.5"/>
<rect x="483.60" y="318.00" width="1.3" height="2.10" fill="#ef5350" fill-opacity="0.8"/>
<rect x="485.60" y="319.00" width="0.8" height="3.50" fill="#ef5350" fill-opacity="0.5"/>
<rect x="485.35" y="319.70" width="1.3" height="2.10" fill="#ef5350" fill-opacity="0.8"/>
<rect x="487.35" y="319.90" width="0.8" height="4.30" fill="#ef5350" fill-opacity="0.5"/>
<rect x="487.10" y="320.76" width="1.3" height="2.58" fill="#ef5350" fill-opacity="0.8"/>
<rect x="489.10" y="320.80" width="0.8" height="8.50" fill="#ef5350" fill-opacity="0.5"/>
<rect x="488.85" y="322.50" width="1.3" height="5.10" fill="#ef5350" fill-opacity="0.8"/>
<rect x="490.85" y="322.50" width="0.8" height="6.80" fill="#ef5350" fill-opacity="0.5"/>
<rect x="490.60" y="323.86" width="1.3" height="4.08" fill="#ef5350" fill-opacity="0.8"/>
<rect x="492.60" y="324.20" width="0.8" height="3.40" fill="#26a69a" fill-opacity="0.4"/>
<rect x="492.35" y="324.88" width="1.3" height="2.72" fill="#26a69a" fill-opacity="0.62"/>
<rect x="494.35" y="327.45" width="0.8" height="1.20" fill="#26a69a" fill-opacity="0.4"/>
<rect x="494.10" y="327.46" width="1.3" height="1.00" fill="#26a69a" fill-opacity="0.62"/>
<rect x="496.10" y="185.30" width="0.8" height="21.60" fill="#26a69a" fill-opacity="0.4"/>
<rect x="495.85" y="189.62" width="1.3" height="17.28" fill="#26a69a" fill-opacity="0.62"/>
<rect x="497.82" y="161.80" width="0.8" height="22.20" fill="#26a69a" fill-opacity="0.4"/>
<rect x="497.57" y="163.95" width="1.3" height="20.05" fill="#26a69a" fill-opacity="0.62"/>
<rect x="499.53" y="160.60" width="0.8" height="5.50" fill="#ef5350" fill-opacity="0.5"/>
<rect x="499.28" y="161.70" width="1.3" height="3.80" fill="#ef5350" fill-opacity="0.8"/>
<rect x="501.25" y="164.90" width="0.8" height="10.50" fill="#ef5350" fill-opacity="0.5"/>
<rect x="501.00" y="165.50" width="1.3" height="7.80" fill="#ef5350" fill-opacity="0.8"/>
<rect x="502.96" y="168.00" width="0.8" height="7.40" fill="#26a69a" fill-opacity="0.4"/>
<rect x="502.71" y="169.48" width="1.3" height="4.44" fill="#26a69a" fill-opacity="0.62"/>
<rect x="504.68" y="167.40" width="0.8" height="3.60" fill="#ef5350" fill-opacity="0.5"/>
<rect x="504.43" y="168.12" width="1.3" height="2.16" fill="#ef5350" fill-opacity="0.8"/>
<rect x="506.39" y="167.40" width="0.8" height="8.00" fill="#ef5350" fill-opacity="0.5"/>
<rect x="506.14" y="169.00" width="1.3" height="5.15" fill="#ef5350" fill-opacity="0.8"/>
<rect x="508.11" y="172.90" width="0.8" height="4.30" fill="#26a69a" fill-opacity="0.4"/>
<rect x="507.86" y="173.53" width="1.3" height="2.81" fill="#26a69a" fill-opacity="0.62"/>
<rect x="509.82" y="175.40" width="0.8" height="4.90" fill="#ef5350" fill-opacity="0.5"/>
<rect x="509.57" y="175.40" width="1.3" height="4.30" fill="#ef5350" fill-opacity="0.8"/>
<rect x="511.54" y="179.10" width="0.8" height="6.20" fill="#ef5350" fill-opacity="0.5"/>
<rect x="511.29" y="179.70" width="1.3" height="4.36" fill="#ef5350" fill-opacity="0.8"/>
<rect x="513.25" y="179.10" width="0.8" height="6.20" fill="#26a69a" fill-opacity="0.4"/>
<rect x="513.00" y="180.34" width="1.3" height="3.72" fill="#26a69a" fill-opacity="0.62"/>
<rect x="514.97" y="179.10" width="0.8" height="9.20" fill="#ef5350" fill-opacity="0.5"/>
<rect x="514.72" y="180.65" width="1.3" height="6.15" fill="#ef5350" fill-opacity="0.8"/>
<rect x="516.68" y="185.30" width="0.8" height="4.30" fill="#26a69a" fill-opacity="0.4"/>
<rect x="516.43" y="186.05" width="1.3" height="2.69" fill="#26a69a" fill-opacity="0.62"/>
<rect x="518.40" y="185.30" width="0.8" height="4.90" fill="#ef5350" fill-opacity="0.5"/>
<rect x="518.15" y="186.05" width="1.3" height="3.17" fill="#ef5350" fill-opacity="0.8"/>
<rect x="520.12" y="187.70" width="0.8" height="2.50" fill="#26a69a" fill-opacity="0.4"/>
<rect x="519.87" y="188.20" width="1.3" height="1.50" fill="#26a69a" fill-opacity="0.62"/>
<rect x="521.83" y="189.60" width="0.8" height="9.20" fill="#ef5350" fill-opacity="0.5"/>
<rect x="521.58" y="189.60" width="1.3" height="9.20" fill="#ef5350" fill-opacity="0.8"/>
<rect x="523.55" y="198.80" width="0.8" height="6.80" fill="#ef5350" fill-opacity="0.5"/>
<rect x="523.30" y="198.80" width="1.3" height="6.20" fill="#ef5350" fill-opacity="0.8"/>
<rect x="525.26" y="204.40" width="0.8" height="4.90" fill="#ef5350" fill-opacity="0.5"/>
<rect x="525.01" y="205.00" width="1.3" height="4.30" fill="#ef5350" fill-opacity="0.8"/>
<rect x="526.98" y="209.30" width="0.8" height="7.50" fill="#ef5350" fill-opacity="0.5"/>
<rect x="526.73" y="209.30" width="1.3" height="6.25" fill="#ef5350" fill-opacity="0.8"/>
<rect x="528.69" y="214.30" width="0.8" height="3.70" fill="#26a69a" fill-opacity="0.4"/>
<rect x="528.44" y="214.93" width="1.3" height="2.33" fill="#26a69a" fill-opacity="0.62"/>
<rect x="530.41" y="217.40" width="0.8" height="4.90" fill="#ef5350" fill-opacity="0.5"/>
<rect x="530.16" y="217.40" width="1.3" height="3.92" fill="#ef5350" fill-opacity="0.8"/>
<rect x="532.12" y="216.10" width="0.8" height="5.60" fill="#26a69a" fill-opacity="0.4"/>
<rect x="531.87" y="217.22" width="1.3" height="3.36" fill="#26a69a" fill-opacity="0.62"/>
<rect x="533.84" y="217.40" width="0.8" height="4.90" fill="#ef5350" fill-opacity="0.5"/>
<rect x="533.59" y="217.82" width="1.3" height="3.50" fill="#ef5350" fill-opacity="0.8"/>
<rect x="535.55" y="218.00" width="0.8" height="3.70" fill="#ef5350" fill-opacity="0.5"/>
<rect x="535.30" y="218.74" width="1.3" height="2.22" fill="#ef5350" fill-opacity="0.8"/>
<rect x="537.27" y="213.00" width="0.8" height="7.00" fill="#26a69a" fill-opacity="0.4"/>
<rect x="537.02" y="214.40" width="1.3" height="5.60" fill="#26a69a" fill-opacity="0.62"/>
<rect x="538.98" y="226.90" width="0.8" height="20.40" fill="#ef5350" fill-opacity="0.5"/>
<rect x="538.73" y="226.90" width="1.3" height="17.95" fill="#ef5350" fill-opacity="0.8"/>
<rect x="540.70" y="242.40" width="0.8" height="13.00" fill="#ef5350" fill-opacity="0.5"/>
<rect x="540.45" y="244.85" width="1.3" height="8.10" fill="#ef5350" fill-opacity="0.8"/>
<rect x="542.42" y="250.50" width="0.8" height="5.70" fill="#26a69a" fill-opacity="0.4"/>
<rect x="542.17" y="251.64" width="1.3" height="3.42" fill="#26a69a" fill-opacity="0.62"/>
<rect x="544.13" y="252.10" width="0.8" height="8.20" fill="#ef5350" fill-opacity="0.5"/>
<rect x="543.88" y="252.10" width="1.3" height="6.56" fill="#ef5350" fill-opacity="0.8"/>
<rect x="545.85" y="251.30" width="0.8" height="9.00" fill="#26a69a" fill-opacity="0.4"/>
<rect x="545.60" y="253.10" width="1.3" height="5.40" fill="#26a69a" fill-opacity="0.62"/>
<rect x="547.56" y="256.20" width="0.8" height="10.60" fill="#ef5350" fill-opacity="0.5"/>
<rect x="547.31" y="256.20" width="1.3" height="8.48" fill="#ef5350" fill-opacity="0.8"/>
<rect x="549.28" y="261.90" width="0.8" height="9.80" fill="#ef5350" fill-opacity="0.5"/>
<rect x="549.03" y="263.86" width="1.3" height="5.88" fill="#ef5350" fill-opacity="0.8"/>
<rect x="550.99" y="266.00" width="0.8" height="5.70" fill="#26a69a" fill-opacity="0.4"/>
<rect x="550.74" y="267.14" width="1.3" height="3.42" fill="#26a69a" fill-opacity="0.62"/>
<rect x="552.71" y="264.40" width="0.8" height="5.60" fill="#26a69a" fill-opacity="0.4"/>
<rect x="552.46" y="265.52" width="1.3" height="3.36" fill="#26a69a" fill-opacity="0.62"/>
<rect x="554.42" y="269.30" width="0.8" height="6.50" fill="#ef5350" fill-opacity="0.5"/>
<rect x="554.17" y="269.30" width="1.3" height="5.20" fill="#ef5350" fill-opacity="0.8"/>
<rect x="556.14" y="271.70" width="0.8" height="3.30" fill="#ef5350" fill-opacity="0.5"/>
<rect x="555.89" y="272.36" width="1.3" height="1.98" fill="#ef5350" fill-opacity="0.8"/>
<rect x="557.85" y="271.70" width="0.8" height="4.10" fill="#ef5350" fill-opacity="0.5"/>
<rect x="557.60" y="272.52" width="1.3" height="2.46" fill="#ef5350" fill-opacity="0.8"/>
<rect x="559.57" y="274.10" width="0.8" height="2.50" fill="#ef5350" fill-opacity="0.5"/>
<rect x="559.32" y="274.60" width="1.3" height="2.00" fill="#ef5350" fill-opacity="0.8"/>
<rect x="561.28" y="276.60" width="0.8" height="2.40" fill="#ef5350" fill-opacity="0.5"/>
<rect x="561.03" y="276.60" width="1.3" height="2.00" fill="#ef5350" fill-opacity="0.8"/>
<rect x="563.00" y="278.20" width="0.8" height="2.50" fill="#ef5350" fill-opacity="0.5"/>
<rect x="562.75" y="278.60" width="1.3" height="1.60" fill="#ef5350" fill-opacity="0.8"/>
<rect x="564.72" y="279.00" width="0.8" height="2.50" fill="#ef5350" fill-opacity="0.5"/>
<rect x="564.47" y="279.50" width="1.3" height="1.50" fill="#ef5350" fill-opacity="0.8"/>
<rect x="566.43" y="279.00" width="0.8" height="2.50" fill="#26a69a" fill-opacity="0.4"/>
<rect x="566.18" y="279.50" width="1.3" height="1.50" fill="#26a69a" fill-opacity="0.62"/>
<rect x="568.15" y="280.70" width="0.8" height="2.40" fill="#ef5350" fill-opacity="0.5"/>
<rect x="567.90" y="280.70" width="1.3" height="1.92" fill="#ef5350" fill-opacity="0.8"/>
<rect x="569.86" y="281.50" width="0.8" height="2.40" fill="#ef5350" fill-opacity="0.5"/>
<rect x="569.61" y="281.98" width="1.3" height="1.44" fill="#ef5350" fill-opacity="0.8"/>
<rect x="571.58" y="282.30" width="0.8" height="2.40" fill="#26a69a" fill-opacity="0.4"/>
<rect x="571.33" y="282.50" width="1.3" height="1.72" fill="#26a69a" fill-opacity="0.62"/>
<rect x="573.29" y="282.30" width="0.8" height="3.20" fill="#26a69a" fill-opacity="0.4"/>
<rect x="573.04" y="282.30" width="1.3" height="2.56" fill="#26a69a" fill-opacity="0.62"/>
<rect x="575.01" y="282.30" width="0.8" height="3.20" fill="#26a69a" fill-opacity="0.4"/>
<rect x="574.76" y="282.30" width="1.3" height="2.56" fill="#26a69a" fill-opacity="0.62"/>
<rect x="576.72" y="281.50" width="0.8" height="4.00" fill="#26a69a" fill-opacity="0.4"/>
<rect x="576.47" y="281.70" width="1.3" height="3.00" fill="#26a69a" fill-opacity="0.62"/>
<rect x="578.44" y="279.80" width="0.8" height="4.10" fill="#26a69a" fill-opacity="0.4"/>
<rect x="578.19" y="280.62" width="1.3" height="2.46" fill="#26a69a" fill-opacity="0.62"/>
<rect x="580.15" y="277.40" width="0.8" height="5.70" fill="#26a69a" fill-opacity="0.4"/>
<rect x="579.90" y="278.54" width="1.3" height="3.42" fill="#26a69a" fill-opacity="0.62"/>
<rect x="581.87" y="278.20" width="0.8" height="7.30" fill="#ef5350" fill-opacity="0.5"/>
<rect x="581.62" y="279.07" width="1.3" height="4.97" fill="#ef5350" fill-opacity="0.8"/>
<rect x="583.58" y="278.20" width="0.8" height="4.10" fill="#26a69a" fill-opacity="0.4"/>
<rect x="583.33" y="279.02" width="1.3" height="2.46" fill="#26a69a" fill-opacity="0.62"/>
<rect x="585.30" y="259.80" width="0.8" height="1.80" fill="#26a69a" fill-opacity="0.4"/>
<rect x="585.05" y="260.16" width="1.3" height="1.44" fill="#26a69a" fill-opacity="0.62"/>
<rect x="587.02" y="258.50" width="0.8" height="2.50" fill="#26a69a" fill-opacity="0.4"/>
<rect x="586.77" y="259.00" width="1.3" height="1.50" fill="#26a69a" fill-opacity="0.62"/>
<rect x="588.73" y="259.80" width="0.8" height="1.20" fill="#26a69a" fill-opacity="0.4"/>
<rect x="588.48" y="259.78" width="1.3" height="1.00" fill="#26a69a" fill-opacity="0.62"/>
<rect x="590.45" y="261.60" width="0.8" height="1.90" fill="#ef5350" fill-opacity="0.5"/>
<rect x="590.20" y="261.60" width="1.3" height="1.52" fill="#ef5350" fill-opacity="0.8"/>
<rect x="592.17" y="262.20" width="0.8" height="2.50" fill="#ef5350" fill-opacity="0.5"/>
<rect x="591.92" y="262.70" width="1.3" height="1.50" fill="#ef5350" fill-opacity="0.8"/>
<rect x="593.89" y="259.10" width="0.8" height="4.40" fill="#26a69a" fill-opacity="0.4"/>
<rect x="593.64" y="259.45" width="1.3" height="4.05" fill="#26a69a" fill-opacity="0.62"/>
<rect x="595.60" y="257.90" width="0.8" height="1.90" fill="#26a69a" fill-opacity="0.4"/>
<rect x="595.35" y="258.28" width="1.3" height="1.17" fill="#26a69a" fill-opacity="0.62"/>
<rect x="597.32" y="253.00" width="0.8" height="6.80" fill="#26a69a" fill-opacity="0.4"/>
<rect x="597.07" y="254.36" width="1.3" height="4.49" fill="#26a69a" fill-opacity="0.62"/>
<rect x="599.04" y="251.70" width="0.8" height="4.30" fill="#ef5350" fill-opacity="0.5"/>
<rect x="598.79" y="252.56" width="1.3" height="2.84" fill="#ef5350" fill-opacity="0.8"/>
<rect x="600.76" y="254.80" width="0.8" height="1.90" fill="#26a69a" fill-opacity="0.4"/>
<rect x="600.51" y="254.80" width="1.3" height="1.52" fill="#26a69a" fill-opacity="0.62"/>
<rect x="602.47" y="255.40" width="0.8" height="4.40" fill="#ef5350" fill-opacity="0.5"/>
<rect x="602.22" y="255.40" width="1.3" height="3.52" fill="#ef5350" fill-opacity="0.8"/>
<rect x="604.19" y="257.90" width="0.8" height="1.90" fill="#26a69a" fill-opacity="0.4"/>
<rect x="603.94" y="258.25" width="1.3" height="1.17" fill="#26a69a" fill-opacity="0.62"/>
<rect x="605.91" y="259.80" width="0.8" height="3.70" fill="#ef5350" fill-opacity="0.5"/>
<rect x="605.66" y="259.80" width="1.3" height="2.96" fill="#ef5350" fill-opacity="0.8"/>
<rect x="607.63" y="259.80" width="0.8" height="2.40" fill="#26a69a" fill-opacity="0.4"/>
<rect x="607.38" y="260.28" width="1.3" height="1.44" fill="#26a69a" fill-opacity="0.62"/>
<rect x="609.34" y="261.60" width="0.8" height="5.60" fill="#ef5350" fill-opacity="0.5"/>
<rect x="609.09" y="261.60" width="1.3" height="5.30" fill="#ef5350" fill-opacity="0.8"/>
<rect x="611.06" y="266.60" width="0.8" height="2.40" fill="#ef5350" fill-opacity="0.5"/>
<rect x="610.81" y="266.90" width="1.3" height="1.62" fill="#ef5350" fill-opacity="0.8"/>
<rect x="612.78" y="267.20" width="0.8" height="4.30" fill="#ef5350" fill-opacity="0.5"/>
<rect x="612.53" y="268.06" width="1.3" height="2.58" fill="#ef5350" fill-opacity="0.8"/>
<rect x="614.49" y="266.60" width="0.8" height="6.10" fill="#26a69a" fill-opacity="0.4"/>
<rect x="614.24" y="267.82" width="1.3" height="3.66" fill="#26a69a" fill-opacity="0.62"/>
<rect x="616.21" y="265.90" width="0.8" height="6.20" fill="#26a69a" fill-opacity="0.4"/>
<rect x="615.96" y="266.94" width="1.3" height="3.92" fill="#26a69a" fill-opacity="0.62"/>
<rect x="617.93" y="265.30" width="0.8" height="3.70" fill="#ef5350" fill-opacity="0.5"/>
<rect x="617.68" y="266.04" width="1.3" height="2.22" fill="#ef5350" fill-opacity="0.8"/>
<rect x="619.65" y="266.60" width="0.8" height="4.90" fill="#ef5350" fill-opacity="0.5"/>
<rect x="619.40" y="267.58" width="1.3" height="2.94" fill="#ef5350" fill-opacity="0.8"/>
<rect x="621.36" y="280.80" width="0.8" height="26.50" fill="#ef5350" fill-opacity="0.5"/>
<rect x="621.11" y="280.80" width="1.3" height="21.20" fill="#ef5350" fill-opacity="0.8"/>
<rect x="623.08" y="282.00" width="0.8" height="11.70" fill="#26a69a" fill-opacity="0.4"/>
<rect x="622.83" y="284.34" width="1.3" height="7.02" fill="#26a69a" fill-opacity="0.62"/>
<rect x="624.80" y="286.90" width="0.8" height="5.00" fill="#ef5350" fill-opacity="0.5"/>
<rect x="624.55" y="286.90" width="1.3" height="5.00" fill="#ef5350" fill-opacity="0.8"/>
<rect x="626.52" y="291.90" width="0.8" height="5.50" fill="#ef5350" fill-opacity="0.5"/>
<rect x="626.27" y="291.90" width="1.3" height="4.40" fill="#ef5350" fill-opacity="0.8"/>
<rect x="628.23" y="246.80" width="0.8" height="43.80" fill="#26a69a" fill-opacity="0.4"/>
<rect x="627.98" y="255.56" width="1.3" height="35.04" fill="#26a69a" fill-opacity="0.62"/>
<rect x="629.95" y="252.40" width="0.8" height="20.90" fill="#26a69a" fill-opacity="0.4"/>
<rect x="629.70" y="253.00" width="1.3" height="16.12" fill="#26a69a" fill-opacity="0.62"/>
<rect x="631.67" y="232.80" width="0.8" height="20.80" fill="#26a69a" fill-opacity="0.4"/>
<rect x="631.42" y="236.96" width="1.3" height="16.04" fill="#26a69a" fill-opacity="0.62"/>
<rect x="633.38" y="218.00" width="0.8" height="23.20" fill="#26a69a" fill-opacity="0.4"/>
<rect x="633.13" y="222.64" width="1.3" height="14.36" fill="#26a69a" fill-opacity="0.62"/>
<rect x="635.10" y="223.80" width="0.8" height="11.60" fill="#ef5350" fill-opacity="0.5"/>
<rect x="634.85" y="226.12" width="1.3" height="7.03" fill="#ef5350" fill-opacity="0.8"/>
<rect x="636.82" y="230.90" width="0.8" height="23.80" fill="#ef5350" fill-opacity="0.5"/>
<rect x="636.57" y="233.15" width="1.3" height="16.79" fill="#ef5350" fill-opacity="0.8"/>
<rect x="638.54" y="241.20" width="0.8" height="10.30" fill="#ef5350" fill-opacity="0.5"/>
<rect x="638.29" y="243.26" width="1.3" height="6.18" fill="#ef5350" fill-opacity="0.8"/>
<rect x="640.25" y="209.70" width="0.8" height="44.30" fill="#26a69a" fill-opacity="0.4"/>
<rect x="640.00" y="218.56" width="1.3" height="30.37" fill="#26a69a" fill-opacity="0.62"/>
<rect x="641.97" y="239.90" width="0.8" height="24.50" fill="#ef5350" fill-opacity="0.5"/>
<rect x="641.72" y="244.80" width="1.3" height="16.70" fill="#ef5350" fill-opacity="0.8"/>
<rect x="643.69" y="258.60" width="0.8" height="10.90" fill="#ef5350" fill-opacity="0.5"/>
<rect x="643.44" y="260.78" width="1.3" height="6.54" fill="#ef5350" fill-opacity="0.8"/>
<rect x="645.41" y="259.20" width="0.8" height="6.40" fill="#26a69a" fill-opacity="0.4"/>
<rect x="645.16" y="260.48" width="1.3" height="3.84" fill="#26a69a" fill-opacity="0.62"/>
<rect x="647.12" y="248.30" width="0.8" height="13.50" fill="#26a69a" fill-opacity="0.4"/>
<rect x="646.87" y="251.00" width="1.3" height="9.50" fill="#26a69a" fill-opacity="0.62"/>
<rect x="648.84" y="236.00" width="0.8" height="18.00" fill="#26a69a" fill-opacity="0.4"/>
<rect x="648.59" y="236.65" width="1.3" height="14.50" fill="#26a69a" fill-opacity="0.62"/>
<rect x="650.56" y="219.30" width="0.8" height="18.00" fill="#26a69a" fill-opacity="0.4"/>
<rect x="650.31" y="220.90" width="1.3" height="15.75" fill="#26a69a" fill-opacity="0.62"/>
<rect x="652.27" y="205.80" width="0.8" height="16.70" fill="#ef5350" fill-opacity="0.5"/>
<rect x="652.02" y="209.14" width="1.3" height="12.56" fill="#ef5350" fill-opacity="0.8"/>
<rect x="653.99" y="212.20" width="0.8" height="13.50" fill="#26a69a" fill-opacity="0.4"/>
<rect x="653.74" y="214.90" width="1.3" height="8.10" fill="#26a69a" fill-opacity="0.62"/>
<rect x="655.71" y="206.40" width="0.8" height="18.70" fill="#ef5350" fill-opacity="0.5"/>
<rect x="655.46" y="210.14" width="1.3" height="11.73" fill="#ef5350" fill-opacity="0.8"/>
<rect x="657.43" y="200.00" width="0.8" height="16.20" fill="#26a69a" fill-opacity="0.4"/>
<rect x="657.18" y="201.85" width="1.3" height="14.35" fill="#26a69a" fill-opacity="0.62"/>
<rect x="659.14" y="186.70" width="0.8" height="17.00" fill="#26a69a" fill-opacity="0.4"/>
<rect x="658.89" y="190.10" width="1.3" height="11.75" fill="#26a69a" fill-opacity="0.62"/>
<rect x="660.86" y="186.70" width="0.8" height="14.80" fill="#ef5350" fill-opacity="0.5"/>
<rect x="660.61" y="189.66" width="1.3" height="11.09" fill="#ef5350" fill-opacity="0.8"/>
<rect x="662.58" y="200.00" width="0.8" height="5.20" fill="#26a69a" fill-opacity="0.4"/>
<rect x="662.33" y="200.15" width="1.3" height="4.01" fill="#26a69a" fill-opacity="0.62"/>
<rect x="664.30" y="201.50" width="0.8" height="10.30" fill="#ef5350" fill-opacity="0.5"/>
<rect x="664.05" y="201.50" width="1.3" height="8.24" fill="#ef5350" fill-opacity="0.8"/>
<rect x="666.01" y="195.60" width="0.8" height="13.30" fill="#26a69a" fill-opacity="0.4"/>
<rect x="665.76" y="195.60" width="1.3" height="10.64" fill="#26a69a" fill-opacity="0.62"/>
<rect x="667.73" y="186.70" width="0.8" height="8.90" fill="#26a69a" fill-opacity="0.4"/>
<rect x="667.48" y="188.48" width="1.3" height="7.12" fill="#26a69a" fill-opacity="0.62"/>
<rect x="669.45" y="173.50" width="0.8" height="17.70" fill="#ef5350" fill-opacity="0.5"/>
<rect x="669.20" y="177.04" width="1.3" height="13.03" fill="#ef5350" fill-opacity="0.8"/>
<rect x="671.17" y="192.60" width="0.8" height="21.40" fill="#ef5350" fill-opacity="0.5"/>
<rect x="670.92" y="192.60" width="1.3" height="19.95" fill="#ef5350" fill-opacity="0.8"/>
<rect x="672.88" y="211.10" width="0.8" height="7.40" fill="#26a69a" fill-opacity="0.4"/>
<rect x="672.63" y="211.82" width="1.3" height="5.20" fill="#26a69a" fill-opacity="0.62"/>
<rect x="674.60" y="181.50" width="0.8" height="4.90" fill="#26a69a" fill-opacity="0.4"/>
<rect x="674.35" y="182.48" width="1.3" height="3.92" fill="#26a69a" fill-opacity="0.62"/>
<rect x="676.34" y="177.40" width="0.8" height="7.30" fill="#26a69a" fill-opacity="0.4"/>
<rect x="676.09" y="178.86" width="1.3" height="4.38" fill="#26a69a" fill-opacity="0.62"/>
<rect x="678.08" y="178.20" width="0.8" height="4.90" fill="#ef5350" fill-opacity="0.5"/>
<rect x="677.83" y="179.18" width="1.3" height="3.52" fill="#ef5350" fill-opacity="0.8"/>
<rect x="679.82" y="182.30" width="0.8" height="7.30" fill="#ef5350" fill-opacity="0.5"/>
<rect x="679.57" y="182.70" width="1.3" height="6.50" fill="#ef5350" fill-opacity="0.8"/>
<rect x="681.56" y="188.80" width="0.8" height="5.70" fill="#ef5350" fill-opacity="0.5"/>
<rect x="681.31" y="189.20" width="1.3" height="4.16" fill="#ef5350" fill-opacity="0.8"/>
<rect x="683.30" y="188.80" width="0.8" height="4.90" fill="#26a69a" fill-opacity="0.4"/>
<rect x="683.05" y="189.78" width="1.3" height="2.94" fill="#26a69a" fill-opacity="0.62"/>
<rect x="685.04" y="188.00" width="0.8" height="4.90" fill="#26a69a" fill-opacity="0.4"/>
<rect x="684.79" y="188.40" width="1.3" height="3.52" fill="#26a69a" fill-opacity="0.62"/>
<rect x="686.78" y="182.30" width="0.8" height="6.50" fill="#26a69a" fill-opacity="0.4"/>
<rect x="686.53" y="182.70" width="1.3" height="5.70" fill="#26a69a" fill-opacity="0.62"/>
<rect x="688.52" y="152.10" width="0.8" height="31.00" fill="#26a69a" fill-opacity="0.4"/>
<rect x="688.27" y="153.75" width="1.3" height="28.95" fill="#26a69a" fill-opacity="0.62"/>
<rect x="690.26" y="132.60" width="0.8" height="22.80" fill="#26a69a" fill-opacity="0.4"/>
<rect x="690.01" y="133.40" width="1.3" height="20.35" fill="#26a69a" fill-opacity="0.62"/>
<rect x="692.00" y="113.90" width="0.8" height="20.30" fill="#26a69a" fill-opacity="0.4"/>
<rect x="691.75" y="117.96" width="1.3" height="15.44" fill="#26a69a" fill-opacity="0.62"/>
<rect x="693.74" y="113.90" width="0.8" height="23.60" fill="#ef5350" fill-opacity="0.5"/>
<rect x="693.49" y="118.62" width="1.3" height="17.63" fill="#ef5350" fill-opacity="0.8"/>
<rect x="695.48" y="135.00" width="0.8" height="15.50" fill="#ef5350" fill-opacity="0.5"/>
<rect x="695.23" y="136.25" width="1.3" height="11.15" fill="#ef5350" fill-opacity="0.8"/>
<rect x="697.23" y="133.40" width="0.8" height="15.50" fill="#26a69a" fill-opacity="0.4"/>
<rect x="696.98" y="134.20" width="1.3" height="11.60" fill="#26a69a" fill-opacity="0.62"/>
<rect x="698.97" y="127.70" width="0.8" height="7.30" fill="#26a69a" fill-opacity="0.4"/>
<rect x="698.72" y="129.16" width="1.3" height="5.04" fill="#26a69a" fill-opacity="0.62"/>
<rect x="700.71" y="110.60" width="0.8" height="20.40" fill="#26a69a" fill-opacity="0.4"/>
<rect x="700.46" y="114.68" width="1.3" height="14.67" fill="#26a69a" fill-opacity="0.62"/>
<rect x="702.45" y="124.40" width="0.8" height="14.70" fill="#ef5350" fill-opacity="0.5"/>
<rect x="702.20" y="127.34" width="1.3" height="8.82" fill="#ef5350" fill-opacity="0.8"/>
<rect x="704.19" y="130.20" width="0.8" height="12.20" fill="#26a69a" fill-opacity="0.4"/>
<rect x="703.94" y="131.10" width="1.3" height="8.86" fill="#26a69a" fill-opacity="0.62"/>
<rect x="705.93" y="125.00" width="0.8" height="7.00" fill="#26a69a" fill-opacity="0.4"/>
<rect x="705.68" y="126.40" width="1.3" height="4.70" fill="#26a69a" fill-opacity="0.62"/>
<rect x="707.67" y="119.70" width="0.8" height="8.80" fill="#26a69a" fill-opacity="0.4"/>
<rect x="707.42" y="121.46" width="1.3" height="5.29" fill="#26a69a" fill-opacity="0.62"/>
<rect x="709.41" y="121.50" width="0.8" height="10.50" fill="#ef5350" fill-opacity="0.5"/>
<rect x="709.16" y="123.60" width="1.3" height="6.30" fill="#ef5350" fill-opacity="0.8"/>
<rect x="711.15" y="118.00" width="0.8" height="10.80" fill="#26a69a" fill-opacity="0.4"/>
<rect x="710.90" y="118.00" width="1.3" height="10.50" fill="#26a69a" fill-opacity="0.62"/>
<rect x="712.89" y="107.70" width="0.8" height="10.30" fill="#26a69a" fill-opacity="0.4"/>
<rect x="712.64" y="109.76" width="1.3" height="8.24" fill="#26a69a" fill-opacity="0.62"/>
<rect x="714.63" y="115.40" width="0.8" height="5.20" fill="#ef5350" fill-opacity="0.5"/>
<rect x="714.38" y="116.44" width="1.3" height="3.12" fill="#ef5350" fill-opacity="0.8"/>
<rect x="716.37" y="118.00" width="0.8" height="7.00" fill="#26a69a" fill-opacity="0.4"/>
<rect x="716.12" y="118.65" width="1.3" height="4.95" fill="#26a69a" fill-opacity="0.62"/>
<rect x="718.11" y="85.60" width="0.8" height="50.40" fill="#26a69a" fill-opacity="0.4"/>
<rect x="717.86" y="95.68" width="1.3" height="30.24" fill="#26a69a" fill-opacity="0.62"/>
<rect x="719.85" y="73.40" width="0.8" height="35.80" fill="#26a69a" fill-opacity="0.4"/>
<rect x="719.60" y="80.56" width="1.3" height="21.48" fill="#26a69a" fill-opacity="0.62"/>
<rect x="721.59" y="57.60" width="0.8" height="84.90" fill="#ef5350" fill-opacity="0.5"/>
<rect x="721.34" y="74.58" width="1.3" height="50.94" fill="#ef5350" fill-opacity="0.8"/>
<rect x="723.33" y="93.50" width="0.8" height="56.90" fill="#26a69a" fill-opacity="0.4"/>
<rect x="723.08" y="104.88" width="1.3" height="34.14" fill="#26a69a" fill-opacity="0.62"/>
<rect x="725.07" y="74.20" width="0.8" height="7.00" fill="#26a69a" fill-opacity="0.4"/>
<rect x="724.82" y="75.60" width="1.3" height="5.60" fill="#26a69a" fill-opacity="0.62"/>
<rect x="726.81" y="49.50" width="0.8" height="30.90" fill="#26a69a" fill-opacity="0.4"/>
<rect x="726.56" y="55.68" width="1.3" height="21.62" fill="#26a69a" fill-opacity="0.62"/>
<rect x="728.55" y="65.00" width="0.8" height="9.60" fill="#ef5350" fill-opacity="0.5"/>
<rect x="728.30" y="66.92" width="1.3" height="6.08" fill="#ef5350" fill-opacity="0.8"/>
<rect x="730.29" y="71.40" width="0.8" height="44.40" fill="#ef5350" fill-opacity="0.5"/>
<rect x="730.04" y="73.00" width="1.3" height="33.92" fill="#ef5350" fill-opacity="0.8"/>
<rect x="732.03" y="82.30" width="0.8" height="39.20" fill="#26a69a" fill-opacity="0.4"/>
<rect x="731.78" y="82.95" width="1.3" height="30.71" fill="#26a69a" fill-opacity="0.62"/>
<rect x="733.77" y="57.90" width="0.8" height="25.70" fill="#26a69a" fill-opacity="0.4"/>
<rect x="733.52" y="63.04" width="1.3" height="19.91" fill="#26a69a" fill-opacity="0.62"/>
<rect x="735.51" y="61.00" width="0.8" height="29.00" fill="#ef5350" fill-opacity="0.5"/>
<rect x="735.26" y="66.80" width="1.3" height="17.40" fill="#ef5350" fill-opacity="0.8"/>
<rect x="737.25" y="74.60" width="0.8" height="19.30" fill="#ef5350" fill-opacity="0.5"/>
<rect x="737.00" y="78.46" width="1.3" height="11.58" fill="#ef5350" fill-opacity="0.8"/>
<rect x="738.99" y="74.60" width="0.8" height="18.00" fill="#26a69a" fill-opacity="0.4"/>
<rect x="738.74" y="78.20" width="1.3" height="10.80" fill="#26a69a" fill-opacity="0.62"/>
<rect x="740.73" y="70.10" width="0.8" height="14.80" fill="#26a69a" fill-opacity="0.4"/>
<rect x="740.48" y="73.06" width="1.3" height="8.88" fill="#26a69a" fill-opacity="0.62"/>
<rect x="742.48" y="74.00" width="0.8" height="18.60" fill="#ef5350" fill-opacity="0.5"/>
<rect x="742.23" y="74.92" width="1.3" height="13.95" fill="#ef5350" fill-opacity="0.8"/>
<rect x="744.22" y="83.60" width="0.8" height="10.90" fill="#ef5350" fill-opacity="0.5"/>
<rect x="743.97" y="85.78" width="1.3" height="6.54" fill="#ef5350" fill-opacity="0.8"/>
<rect x="745.96" y="69.50" width="0.8" height="28.30" fill="#26a69a" fill-opacity="0.4"/>
<rect x="745.71" y="75.16" width="1.3" height="16.98" fill="#26a69a" fill-opacity="0.62"/>
<rect x="747.70" y="77.80" width="0.8" height="31.50" fill="#ef5350" fill-opacity="0.5"/>
<rect x="747.45" y="84.10" width="1.3" height="18.90" fill="#ef5350" fill-opacity="0.8"/>
<rect x="749.44" y="96.50" width="0.8" height="12.80" fill="#26a69a" fill-opacity="0.4"/>
<rect x="749.19" y="99.06" width="1.3" height="7.68" fill="#26a69a" fill-opacity="0.62"/>
<rect x="751.18" y="102.00" width="0.8" height="6.10" fill="#ef5350" fill-opacity="0.5"/>
<rect x="750.93" y="102.00" width="1.3" height="4.88" fill="#ef5350" fill-opacity="0.8"/>
<rect x="752.92" y="105.50" width="0.8" height="7.50" fill="#ef5350" fill-opacity="0.5"/>
<rect x="752.67" y="106.80" width="1.3" height="4.70" fill="#ef5350" fill-opacity="0.8"/>
<rect x="754.66" y="110.00" width="0.8" height="10.00" fill="#ef5350" fill-opacity="0.5"/>
<rect x="754.41" y="111.50" width="1.3" height="6.50" fill="#ef5350" fill-opacity="0.8"/>
<rect x="756.40" y="95.20" width="0.8" height="64.80" fill="#ef5350" fill-opacity="0.5"/>
<rect x="756.15" y="108.16" width="1.3" height="38.88" fill="#ef5350" fill-opacity="0.8"/>
<rect x="758.14" y="132.00" width="0.8" height="16.00" fill="#26a69a" fill-opacity="0.4"/>
<rect x="757.89" y="135.20" width="1.3" height="9.60" fill="#26a69a" fill-opacity="0.62"/>
<rect x="759.88" y="146.00" width="0.8" height="26.00" fill="#ef5350" fill-opacity="0.5"/>
<rect x="759.63" y="146.00" width="1.3" height="20.80" fill="#ef5350" fill-opacity="0.8"/>
<rect x="761.62" y="141.00" width="0.8" height="18.00" fill="#ef5350" fill-opacity="0.5"/>
<rect x="761.37" y="144.60" width="1.3" height="10.80" fill="#ef5350" fill-opacity="0.8"/>
<rect x="763.36" y="148.00" width="0.8" height="18.00" fill="#26a69a" fill-opacity="0.4"/>
<rect x="763.11" y="150.75" width="1.3" height="11.65" fill="#26a69a" fill-opacity="0.62"/>
<rect x="765.10" y="169.00" width="0.8" height="5.00" fill="#ef5350" fill-opacity="0.5"/>
<rect x="764.85" y="169.00" width="1.3" height="4.00" fill="#ef5350" fill-opacity="0.8"/>
<rect x="766.85" y="170.00" width="0.8" height="9.00" fill="#ef5350" fill-opacity="0.5"/>
<rect x="766.60" y="171.80" width="1.3" height="5.40" fill="#ef5350" fill-opacity="0.8"/>
<rect x="768.60" y="172.00" width="0.8" height="8.00" fill="#ef5350" fill-opacity="0.5"/>
<rect x="768.35" y="173.60" width="1.3" height="5.40" fill="#ef5350" fill-opacity="0.8"/>
<rect x="770.34" y="178.00" width="0.8" height="11.00" fill="#ef5350" fill-opacity="0.5"/>
<rect x="770.09" y="179.00" width="1.3" height="9.85" fill="#ef5350" fill-opacity="0.8"/>
<rect x="772.09" y="188.70" width="0.8" height="7.30" fill="#ef5350" fill-opacity="0.5"/>
<rect x="771.84" y="188.85" width="1.3" height="7.15" fill="#ef5350" fill-opacity="0.8"/>
<rect x="773.84" y="196.00" width="0.8" height="7.30" fill="#26a69a" fill-opacity="0.4"/>
<rect x="773.59" y="196.00" width="1.3" height="5.84" fill="#26a69a" fill-opacity="0.62"/>
<rect x="775.59" y="197.50" width="0.8" height="5.80" fill="#26a69a" fill-opacity="0.4"/>
<rect x="775.34" y="197.50" width="1.3" height="4.64" fill="#26a69a" fill-opacity="0.62"/>
<rect x="777.34" y="196.80" width="0.8" height="2.20" fill="#ef5350" fill-opacity="0.5"/>
<rect x="777.09" y="197.24" width="1.3" height="1.32" fill="#ef5350" fill-opacity="0.8"/>
<rect x="779.08" y="193.80" width="0.8" height="3.70" fill="#26a69a" fill-opacity="0.4"/>
<rect x="778.83" y="194.54" width="1.3" height="2.96" fill="#26a69a" fill-opacity="0.62"/>
<rect x="780.83" y="193.80" width="0.8" height="4.40" fill="#ef5350" fill-opacity="0.5"/>
<rect x="780.58" y="194.68" width="1.3" height="2.64" fill="#ef5350" fill-opacity="0.8"/>
<rect x="782.58" y="196.00" width="0.8" height="3.00" fill="#ef5350" fill-opacity="0.5"/>
<rect x="782.33" y="196.60" width="1.3" height="1.80" fill="#ef5350" fill-opacity="0.8"/>
<rect x="784.33" y="196.80" width="0.8" height="5.10" fill="#ef5350" fill-opacity="0.5"/>
<rect x="784.08" y="197.82" width="1.3" height="3.06" fill="#ef5350" fill-opacity="0.8"/>
<rect x="786.08" y="196.80" width="0.8" height="3.60" fill="#26a69a" fill-opacity="0.4"/>
<rect x="785.83" y="197.52" width="1.3" height="2.16" fill="#26a69a" fill-opacity="0.62"/>
<rect x="787.83" y="196.80" width="0.8" height="3.60" fill="#ef5350" fill-opacity="0.5"/>
<rect x="787.58" y="197.52" width="1.3" height="2.16" fill="#ef5350" fill-opacity="0.8"/>
<rect x="789.57" y="196.00" width="0.8" height="3.00" fill="#26a69a" fill-opacity="0.4"/>
<rect x="789.32" y="196.40" width="1.3" height="2.60" fill="#26a69a" fill-opacity="0.62"/>
<rect x="791.32" y="191.00" width="0.8" height="5.80" fill="#26a69a" fill-opacity="0.4"/>
<rect x="791.07" y="192.16" width="1.3" height="4.24" fill="#26a69a" fill-opacity="0.62"/>
<rect x="793.07" y="191.70" width="0.8" height="2.90" fill="#ef5350" fill-opacity="0.5"/>
<rect x="792.82" y="192.28" width="1.3" height="1.92" fill="#ef5350" fill-opacity="0.8"/>
<rect x="794.82" y="193.80" width="0.8" height="2.20" fill="#ef5350" fill-opacity="0.5"/>
<rect x="794.57" y="194.20" width="1.3" height="1.80" fill="#ef5350" fill-opacity="0.8"/>
<rect x="796.57" y="196.00" width="0.8" height="9.50" fill="#ef5350" fill-opacity="0.5"/>
<rect x="796.32" y="196.00" width="1.3" height="7.70" fill="#ef5350" fill-opacity="0.8"/>
<rect x="798.31" y="201.90" width="0.8" height="7.30" fill="#ef5350" fill-opacity="0.5"/>
<rect x="798.06" y="203.36" width="1.3" height="4.38" fill="#ef5350" fill-opacity="0.8"/>
<rect x="800.06" y="205.50" width="0.8" height="4.40" fill="#ef5350" fill-opacity="0.5"/>
<rect x="799.81" y="206.38" width="1.3" height="2.64" fill="#ef5350" fill-opacity="0.8"/>
<rect x="801.81" y="210.60" width="0.8" height="10.90" fill="#ef5350" fill-opacity="0.5"/>
<rect x="801.56" y="210.60" width="1.3" height="8.72" fill="#ef5350" fill-opacity="0.8"/>
<rect x="803.56" y="215.00" width="0.8" height="6.50" fill="#ef5350" fill-opacity="0.5"/>
<rect x="803.31" y="216.30" width="1.3" height="3.90" fill="#ef5350" fill-opacity="0.8"/>
<rect x="805.31" y="217.20" width="0.8" height="5.80" fill="#ef5350" fill-opacity="0.5"/>
<rect x="805.06" y="218.36" width="1.3" height="3.54" fill="#ef5350" fill-opacity="0.8"/>
<rect x="807.05" y="220.80" width="0.8" height="8.00" fill="#ef5350" fill-opacity="0.5"/>
<rect x="806.80" y="221.90" width="1.3" height="5.80" fill="#ef5350" fill-opacity="0.8"/>
<rect x="808.80" y="226.60" width="0.8" height="5.90" fill="#ef5350" fill-opacity="0.5"/>
<rect x="808.55" y="227.70" width="1.3" height="3.70" fill="#ef5350" fill-opacity="0.8"/>
<rect x="810.55" y="230.30" width="0.8" height="6.60" fill="#ef5350" fill-opacity="0.5"/>
<rect x="810.30" y="231.40" width="1.3" height="4.18" fill="#ef5350" fill-opacity="0.8"/>
<rect x="812.30" y="232.50" width="0.8" height="7.30" fill="#ef5350" fill-opacity="0.5"/>
<rect x="812.05" y="233.96" width="1.3" height="4.38" fill="#ef5350" fill-opacity="0.8"/>
<rect x="814.05" y="234.00" width="0.8" height="14.50" fill="#26a69a" fill-opacity="0.4"/>
<rect x="813.80" y="235.45" width="1.3" height="10.15" fill="#26a69a" fill-opacity="0.62"/>
<rect x="815.79" y="235.40" width="0.8" height="8.70" fill="#26a69a" fill-opacity="0.4"/>
<rect x="815.54" y="235.40" width="1.3" height="6.96" fill="#26a69a" fill-opacity="0.62"/>
<rect x="817.54" y="226.60" width="0.8" height="21.90" fill="#ef5350" fill-opacity="0.5"/>
<rect x="817.29" y="230.98" width="1.3" height="16.42" fill="#ef5350" fill-opacity="0.8"/>
<rect x="819.29" y="246.30" width="0.8" height="5.10" fill="#ef5350" fill-opacity="0.5"/>
<rect x="819.04" y="247.32" width="1.3" height="3.06" fill="#ef5350" fill-opacity="0.8"/>
<rect x="821.04" y="248.50" width="0.8" height="5.80" fill="#ef5350" fill-opacity="0.5"/>
<rect x="820.79" y="249.66" width="1.3" height="3.48" fill="#ef5350" fill-opacity="0.8"/>
<rect x="822.79" y="250.00" width="0.8" height="5.80" fill="#26a69a" fill-opacity="0.4"/>
<rect x="822.54" y="251.07" width="1.3" height="3.57" fill="#26a69a" fill-opacity="0.62"/>
<rect x="824.53" y="254.30" width="0.8" height="7.30" fill="#ef5350" fill-opacity="0.5"/>
<rect x="824.28" y="254.30" width="1.3" height="5.84" fill="#ef5350" fill-opacity="0.8"/>
<rect x="826.28" y="252.90" width="0.8" height="5.80" fill="#26a69a" fill-opacity="0.4"/>
<rect x="826.03" y="254.06" width="1.3" height="3.48" fill="#26a69a" fill-opacity="0.62"/>
<rect x="828.03" y="251.40" width="0.8" height="5.90" fill="#26a69a" fill-opacity="0.4"/>
<rect x="827.78" y="252.58" width="1.3" height="3.54" fill="#26a69a" fill-opacity="0.62"/>
<rect x="829.78" y="250.00" width="0.8" height="10.90" fill="#26a69a" fill-opacity="0.4"/>
<rect x="829.53" y="252.18" width="1.3" height="6.54" fill="#26a69a" fill-opacity="0.62"/>
<rect x="831.53" y="250.70" width="0.8" height="13.80" fill="#ef5350" fill-opacity="0.5"/>
<rect x="831.28" y="252.18" width="1.3" height="9.56" fill="#ef5350" fill-opacity="0.8"/>
<rect x="833.27" y="254.30" width="0.8" height="7.30" fill="#26a69a" fill-opacity="0.4"/>
<rect x="833.02" y="255.76" width="1.3" height="4.38" fill="#26a69a" fill-opacity="0.62"/>
<rect x="835.02" y="255.80" width="0.8" height="3.60" fill="#26a69a" fill-opacity="0.4"/>
<rect x="834.77" y="255.80" width="1.3" height="2.88" fill="#26a69a" fill-opacity="0.62"/>
<rect x="836.77" y="253.60" width="0.8" height="5.80" fill="#26a69a" fill-opacity="0.4"/>
<rect x="836.52" y="254.70" width="1.3" height="3.54" fill="#26a69a" fill-opacity="0.62"/>
<rect x="838.52" y="250.70" width="0.8" height="6.60" fill="#26a69a" fill-opacity="0.4"/>
<rect x="838.27" y="252.02" width="1.3" height="3.96" fill="#26a69a" fill-opacity="0.62"/>
<rect x="840.27" y="245.60" width="0.8" height="10.20" fill="#26a69a" fill-opacity="0.4"/>
<rect x="840.02" y="247.64" width="1.3" height="6.12" fill="#26a69a" fill-opacity="0.62"/>
<rect x="842.02" y="234.70" width="0.8" height="18.20" fill="#26a69a" fill-opacity="0.4"/>
<rect x="841.77" y="238.34" width="1.3" height="10.92" fill="#26a69a" fill-opacity="0.62"/>
<rect x="843.76" y="237.60" width="0.8" height="8.00" fill="#26a69a" fill-opacity="0.4"/>
<rect x="843.51" y="239.20" width="1.3" height="4.80" fill="#26a69a" fill-opacity="0.62"/>
<rect x="845.51" y="232.50" width="0.8" height="8.70" fill="#26a69a" fill-opacity="0.4"/>
<rect x="845.26" y="234.24" width="1.3" height="5.22" fill="#26a69a" fill-opacity="0.62"/>
<rect x="847.26" y="209.90" width="0.8" height="21.10" fill="#26a69a" fill-opacity="0.4"/>
<rect x="847.01" y="214.12" width="1.3" height="16.88" fill="#26a69a" fill-opacity="0.62"/>
<rect x="849.01" y="212.80" width="0.8" height="10.90" fill="#26a69a" fill-opacity="0.4"/>
<rect x="848.76" y="214.98" width="1.3" height="6.54" fill="#26a69a" fill-opacity="0.62"/>
<rect x="850.76" y="213.50" width="0.8" height="9.50" fill="#ef5350" fill-opacity="0.5"/>
<rect x="850.51" y="215.40" width="1.3" height="7.60" fill="#ef5350" fill-opacity="0.8"/>
<rect x="852.50" y="223.00" width="0.8" height="10.20" fill="#ef5350" fill-opacity="0.5"/>
<rect x="852.25" y="223.00" width="1.3" height="8.16" fill="#ef5350" fill-opacity="0.8"/>
<rect x="854.25" y="223.00" width="0.8" height="2.20" fill="#ef5350" fill-opacity="0.5"/>
<rect x="854.00" y="223.44" width="1.3" height="1.32" fill="#ef5350" fill-opacity="0.8"/>
<rect x="856.00" y="250.50" width="0.8" height="5.00" fill="#ef5350" fill-opacity="0.5"/>
<rect x="855.75" y="250.50" width="1.3" height="4.00" fill="#ef5350" fill-opacity="0.8"/>
<rect x="857.75" y="247.00" width="0.8" height="5.00" fill="#26a69a" fill-opacity="0.4"/>
<rect x="857.50" y="248.00" width="1.3" height="3.25" fill="#26a69a" fill-opacity="0.62"/>
<rect x="859.50" y="247.70" width="0.8" height="3.50" fill="#26a69a" fill-opacity="0.4"/>
<rect x="859.25" y="248.40" width="1.3" height="2.10" fill="#26a69a" fill-opacity="0.62"/>
<rect x="861.25" y="250.50" width="0.8" height="4.30" fill="#ef5350" fill-opacity="0.5"/>
<rect x="861.00" y="250.50" width="1.3" height="3.44" fill="#ef5350" fill-opacity="0.8"/>
<rect x="863.00" y="247.00" width="0.8" height="7.80" fill="#ef5350" fill-opacity="0.5"/>
<rect x="862.75" y="248.56" width="1.3" height="5.17" fill="#ef5350" fill-opacity="0.8"/>
<rect x="864.75" y="249.00" width="0.8" height="6.50" fill="#26a69a" fill-opacity="0.4"/>
<rect x="864.50" y="249.75" width="1.3" height="4.45" fill="#26a69a" fill-opacity="0.62"/>
<rect x="866.50" y="246.30" width="0.8" height="4.20" fill="#26a69a" fill-opacity="0.4"/>
<rect x="866.25" y="247.00" width="1.3" height="2.75" fill="#26a69a" fill-opacity="0.62"/>
<rect x="868.25" y="243.40" width="0.8" height="4.30" fill="#26a69a" fill-opacity="0.4"/>
<rect x="868.00" y="244.26" width="1.3" height="2.74" fill="#26a69a" fill-opacity="0.62"/>
<rect x="870.00" y="244.10" width="0.8" height="4.30" fill="#ef5350" fill-opacity="0.5"/>
<rect x="869.75" y="244.96" width="1.3" height="3.09" fill="#ef5350" fill-opacity="0.8"/>
<rect x="871.75" y="247.70" width="0.8" height="2.80" fill="#ef5350" fill-opacity="0.5"/>
<rect x="871.50" y="248.05" width="1.3" height="1.89" fill="#ef5350" fill-opacity="0.8"/>
<rect x="873.50" y="246.30" width="0.8" height="3.50" fill="#26a69a" fill-opacity="0.4"/>
<rect x="873.25" y="247.00" width="1.3" height="2.10" fill="#26a69a" fill-opacity="0.62"/>
<rect x="875.25" y="246.30" width="0.8" height="4.20" fill="#26a69a" fill-opacity="0.4"/>
<rect x="875.00" y="247.14" width="1.3" height="2.52" fill="#26a69a" fill-opacity="0.62"/>
<rect x="877.00" y="249.00" width="0.8" height="3.00" fill="#ef5350" fill-opacity="0.5"/>
<rect x="876.75" y="249.00" width="1.3" height="2.40" fill="#ef5350" fill-opacity="0.8"/>
<rect x="878.75" y="247.70" width="0.8" height="4.30" fill="#26a69a" fill-opacity="0.4"/>
<rect x="878.50" y="248.56" width="1.3" height="2.58" fill="#26a69a" fill-opacity="0.62"/>
<rect x="880.50" y="231.30" width="0.8" height="15.00" fill="#26a69a" fill-opacity="0.4"/>
<rect x="880.25" y="233.80" width="1.3" height="12.50" fill="#26a69a" fill-opacity="0.62"/>
<rect x="882.25" y="229.20" width="0.8" height="7.10" fill="#ef5350" fill-opacity="0.5"/>
<rect x="882.00" y="230.62" width="1.3" height="4.43" fill="#ef5350" fill-opacity="0.8"/>
<rect x="884.00" y="229.90" width="0.8" height="6.40" fill="#26a69a" fill-opacity="0.4"/>
<rect x="883.75" y="231.18" width="1.3" height="3.87" fill="#26a69a" fill-opacity="0.62"/>
<rect x="885.75" y="231.30" width="0.8" height="7.10" fill="#ef5350" fill-opacity="0.5"/>
<rect x="885.50" y="232.72" width="1.3" height="4.26" fill="#ef5350" fill-opacity="0.8"/>
<rect x="887.50" y="227.70" width="0.8" height="12.90" fill="#26a69a" fill-opacity="0.4"/>
<rect x="887.25" y="229.15" width="1.3" height="8.87" fill="#26a69a" fill-opacity="0.62"/>
<rect x="889.25" y="227.70" width="0.8" height="2.90" fill="#26a69a" fill-opacity="0.4"/>
<rect x="889.00" y="228.28" width="1.3" height="1.74" fill="#26a69a" fill-opacity="0.62"/>
<rect x="891.00" y="227.70" width="0.8" height="5.00" fill="#ef5350" fill-opacity="0.5"/>
<rect x="890.75" y="228.42" width="1.3" height="3.28" fill="#ef5350" fill-opacity="0.8"/>
<rect x="892.75" y="230.60" width="0.8" height="6.40" fill="#26a69a" fill-opacity="0.4"/>
<rect x="892.50" y="231.05" width="1.3" height="4.67" fill="#26a69a" fill-opacity="0.62"/>
<rect x="894.50" y="230.60" width="0.8" height="5.70" fill="#ef5350" fill-opacity="0.5"/>
<rect x="894.25" y="231.05" width="1.3" height="4.11" fill="#ef5350" fill-opacity="0.8"/>
<rect x="896.25" y="233.40" width="0.8" height="17.10" fill="#ef5350" fill-opacity="0.5"/>
<rect x="896.00" y="234.85" width="1.3" height="12.23" fill="#ef5350" fill-opacity="0.8"/>
<rect x="898.00" y="243.40" width="0.8" height="16.40" fill="#26a69a" fill-opacity="0.4"/>
<rect x="897.75" y="245.18" width="1.3" height="11.34" fill="#26a69a" fill-opacity="0.62"/>
<rect x="899.75" y="219.20" width="0.8" height="32.80" fill="#26a69a" fill-opacity="0.4"/>
<rect x="899.50" y="225.76" width="1.3" height="19.68" fill="#26a69a" fill-opacity="0.62"/>
<rect x="901.50" y="212.00" width="0.8" height="24.30" fill="#ef5350" fill-opacity="0.5"/>
<rect x="901.25" y="216.86" width="1.3" height="15.16" fill="#ef5350" fill-opacity="0.8"/>
<rect x="903.25" y="217.00" width="0.8" height="20.00" fill="#26a69a" fill-opacity="0.4"/>
<rect x="903.00" y="218.10" width="1.3" height="14.90" fill="#26a69a" fill-opacity="0.62"/>
<rect x="905.00" y="190.00" width="0.8" height="29.20" fill="#26a69a" fill-opacity="0.4"/>
<rect x="904.75" y="195.84" width="1.3" height="22.26" fill="#26a69a" fill-opacity="0.62"/>
<rect x="906.75" y="197.10" width="0.8" height="27.10" fill="#ef5350" fill-opacity="0.5"/>
<rect x="906.50" y="202.52" width="1.3" height="16.26" fill="#ef5350" fill-opacity="0.8"/>
<rect x="908.50" y="224.90" width="0.8" height="15.70" fill="#ef5350" fill-opacity="0.5"/>
<rect x="908.25" y="224.90" width="1.3" height="12.56" fill="#ef5350" fill-opacity="0.8"/>
<rect x="910.25" y="233.40" width="0.8" height="9.30" fill="#ef5350" fill-opacity="0.5"/>
<rect x="910.00" y="235.26" width="1.3" height="5.64" fill="#ef5350" fill-opacity="0.8"/>
<rect x="912.00" y="239.10" width="0.8" height="7.20" fill="#ef5350" fill-opacity="0.5"/>
<rect x="911.75" y="240.54" width="1.3" height="4.32" fill="#ef5350" fill-opacity="0.8"/>
<rect x="913.75" y="232.70" width="0.8" height="17.80" fill="#26a69a" fill-opacity="0.4"/>
<rect x="913.50" y="236.26" width="1.3" height="10.68" fill="#26a69a" fill-opacity="0.62"/>
<rect x="915.50" y="236.30" width="0.8" height="4.30" fill="#ef5350" fill-opacity="0.5"/>
<rect x="915.25" y="237.16" width="1.3" height="2.58" fill="#ef5350" fill-opacity="0.8"/>
<rect x="917.25" y="236.30" width="0.8" height="5.70" fill="#26a69a" fill-opacity="0.4"/>
<rect x="917.00" y="237.44" width="1.3" height="3.42" fill="#26a69a" fill-opacity="0.62"/>
<rect x="919.00" y="234.90" width="0.8" height="9.20" fill="#ef5350" fill-opacity="0.5"/>
<rect x="918.75" y="236.74" width="1.3" height="5.52" fill="#ef5350" fill-opacity="0.8"/>
<rect x="920.75" y="230.60" width="0.8" height="11.40" fill="#26a69a" fill-opacity="0.4"/>
<rect x="920.50" y="232.88" width="1.3" height="8.13" fill="#26a69a" fill-opacity="0.62"/>
<rect x="922.50" y="227.70" width="0.8" height="15.70" fill="#ef5350" fill-opacity="0.5"/>
<rect x="922.25" y="230.84" width="1.3" height="9.42" fill="#ef5350" fill-opacity="0.8"/>
<rect x="924.25" y="244.80" width="0.8" height="10.70" fill="#ef5350" fill-opacity="0.5"/>
<rect x="924.00" y="244.80" width="1.3" height="8.56" fill="#ef5350" fill-opacity="0.8"/>
<rect x="926.00" y="249.80" width="0.8" height="5.70" fill="#ef5350" fill-opacity="0.5"/>
<rect x="925.75" y="250.94" width="1.3" height="3.42" fill="#ef5350" fill-opacity="0.8"/>
<rect x="927.75" y="246.30" width="0.8" height="7.10" fill="#26a69a" fill-opacity="0.4"/>
<rect x="927.50" y="247.72" width="1.3" height="5.68" fill="#26a69a" fill-opacity="0.62"/>
<rect x="929.50" y="246.30" width="0.8" height="19.20" fill="#26a69a" fill-opacity="0.4"/>
<rect x="929.25" y="248.40" width="1.3" height="13.26" fill="#26a69a" fill-opacity="0.62"/>
<rect x="931.25" y="240.60" width="0.8" height="9.90" fill="#26a69a" fill-opacity="0.4"/>
<rect x="931.00" y="242.58" width="1.3" height="5.94" fill="#26a69a" fill-opacity="0.62"/>
<rect x="933.00" y="241.30" width="0.8" height="14.90" fill="#ef5350" fill-opacity="0.5"/>
<rect x="932.75" y="244.28" width="1.3" height="8.94" fill="#ef5350" fill-opacity="0.8"/>
<rect x="934.75" y="243.40" width="0.8" height="12.10" fill="#26a69a" fill-opacity="0.4"/>
<rect x="934.50" y="245.82" width="1.3" height="7.26" fill="#26a69a" fill-opacity="0.62"/>
<rect x="936.50" y="243.40" width="0.8" height="5.70" fill="#ef5350" fill-opacity="0.5"/>
<rect x="936.25" y="244.54" width="1.3" height="3.42" fill="#ef5350" fill-opacity="0.8"/>
<rect x="938.25" y="238.40" width="0.8" height="11.40" fill="#26a69a" fill-opacity="0.4"/>
<rect x="938.00" y="239.50" width="1.3" height="8.18" fill="#26a69a" fill-opacity="0.62"/>
<rect x="940.00" y="229.90" width="0.8" height="10.70" fill="#ef5350" fill-opacity="0.5"/>
<rect x="939.75" y="232.04" width="1.3" height="8.06" fill="#ef5350" fill-opacity="0.8"/>
<rect x="941.75" y="221.30" width="0.8" height="17.10" fill="#26a69a" fill-opacity="0.4"/>
<rect x="941.50" y="222.00" width="1.3" height="16.40" fill="#26a69a" fill-opacity="0.62"/>
<rect x="943.50" y="217.80" width="0.8" height="4.90" fill="#26a69a" fill-opacity="0.4"/>
<rect x="943.25" y="218.78" width="1.3" height="3.22" fill="#26a69a" fill-opacity="0.62"/>
</g>
<line x1="6" y1="360.5" x2="1018" y2="360.5" stroke="#f0f1f3" stroke-width="1"/>
<line x1="6" y1="533.5" x2="1018" y2="533.5" stroke="#f0f1f3" stroke-width="1"/>
<line x1="989.5" y1="16" x2="989.5" y2="548" stroke="#f0f1f3" stroke-width="1"/>
<rect x="5.5" y="15.5" width="1013" height="533" rx="2" fill="none" stroke="#f0f1f3" stroke-width="1"/>
<text x="6" y="11.4" font-family="Liberation Sans, Arial, sans-serif" font-size="7.24" fill="#131722" stroke="#131722">Jay1104 created with TradingView.com, Jan 18, 2026 08:43 UTC-5</text>
<text x="10.5" y="26.7" font-family="Liberation Sans, Arial, sans-serif" font-size="7.15" fill="#131722" stroke="#131722">Volatility S&amp;P 500 Index · 15 · TVC</text>
<text x="123.6" y="26.7" font-family="Liberation Sans, Arial, sans-serif" font-size="7" fill="#131722" stroke="#131722">O</text>
<text x="129.1" y="26.7" font-family="Liberation Sans, Arial, sans-serif" font-size="7" fill="#26a69a" stroke="#26a69a">15.87</text>
<text x="149.7" y="26.7" font-family="Liberation Sans, Arial, sans-serif" font-size="7" fill="#131722" stroke="#131722">H</text>
<text x="154.8" y="26.7" font-family="Liberation Sans, Arial, sans-serif" font-size="7" fill="#26a69a" stroke="#26a69a">15.92</text>
<text x="175.9" y="26.7" font-family="Liberation Sans, Arial, sans-serif" font-size="7" fill="#131722" stroke="#131722">L</text>
<text x="180.3" y="26.7" font-family="Liberation Sans, Arial, sans-serif" font-size="7" fill="#26a69a" stroke="#26a69a">15.84</text>
<text x="201.7" y="26.7" font-family="Liberation Sans, Arial, sans-serif" font-size="7" fill="#131722" stroke="#131722">C</text>
<text x="206.9" y="26.7" font-family="Liberation Sans, Arial, sans-serif" font-size="7" fill="#26a69a" stroke="#26a69a">15.87</text>
<text x="227.5" y="26.7" font-family="Liberation Sans, Arial, sans-serif" font-size="7" fill="#26a69a" stroke="#26a69a">0.00 (0.00%)</text>
<text x="10.4" y="372" font-family="Liberation Sans, Arial, sans-serif" font-size="7" fill="#131722" stroke="#131722">RSI (14, close)</text>
<text x="60.2" y="372" font-family="Liberation Sans, Arial, sans-serif" font-size="7" fill="#7e57c2" stroke="#7e57c2">60.05</text>
<text x="82.6" y="372" font-family="Liberation Sans, Arial, sans-serif" font-size="7" fill="#f9c70a" stroke="#f9c70a">48.70</text>
<text x="1004.0" y="60.00" font-family="Liberation Sans, Arial, sans-serif" font-size="7.1" letter-spacing="0.35" fill="#3d404a" stroke="#3d404a" text-anchor="middle">18.00</text>
<text x="1004.0" y="98.43" font-family="Liberation Sans, Arial, sans-serif" font-size="7.1" letter-spacing="0.35" fill="#3d404a" stroke="#3d404a" text-anchor="middle">17.50</text>
<text x="1004.0" y="136.86" font-family="Liberation Sans, Arial, sans-serif" font-size="7.1" letter-spacing="0.35" fill="#3d404a" stroke="#3d404a" text-anchor="middle">17.00</text>
<text x="1004.0" y="175.29" font-family="Liberation Sans, Arial, sans-serif" font-size="7.1" letter-spacing="0.35" fill="#3d404a" stroke="#3d404a" text-anchor="middle">16.50</text>
<text x="1004.0" y="213.71" font-family="Liberation Sans, Arial, sans-serif" font-size="7.1" letter-spacing="0.35" fill="#3d404a" stroke="#3d404a" text-anchor="middle">16.00</text>
<text x="1004.0" y="252.14" font-family="Liberation Sans, Arial, sans-serif" font-size="7.1" letter-spacing="0.35" fill="#3d404a" stroke="#3d404a" text-anchor="middle">15.50</text>
<text x="1004.0" y="290.57" font-family="Liberation Sans, Arial, sans-serif" font-size="7.1" letter-spacing="0.35" fill="#3d404a" stroke="#3d404a" text-anchor="middle">15.00</text>
<text x="1004.0" y="329.00" font-family="Liberation Sans, Arial, sans-serif" font-size="7.1" letter-spacing="0.35" fill="#3d404a" stroke="#3d404a" text-anchor="middle">14.50</text>
<text x="1004.0" y="366.00" font-family="Liberation Sans, Arial, sans-serif" font-size="7.1" letter-spacing="0.35" fill="#3d404a" stroke="#3d404a" text-anchor="middle">90.00</text>
<text x="1004.0" y="387.75" font-family="Liberation Sans, Arial, sans-serif" font-size="7.1" letter-spacing="0.35" fill="#3d404a" stroke="#3d404a" text-anchor="middle">80.00</text>
<text x="1004.0" y="409.50" font-family="Liberation Sans, Arial, sans-serif" font-size="7.1" letter-spacing="0.35" fill="#3d404a" stroke="#3d404a" text-anchor="middle">70.00</text>
<text x="1004.0" y="453.00" font-family="Liberation Sans, Arial, sans-serif" font-size="7.1" letter-spacing="0.35" fill="#3d404a" stroke="#3d404a" text-anchor="middle">50.00</text>
<text x="1004.0" y="474.75" font-family="Liberation Sans, Arial, sans-serif" font-size="7.1" letter-spacing="0.35" fill="#3d404a" stroke="#3d404a" text-anchor="middle">40.00</text>
<text x="1004.0" y="496.50" font-family="Liberation Sans, Arial, sans-serif" font-size="7.1" letter-spacing="0.35" fill="#3d404a" stroke="#3d404a" text-anchor="middle">30.00</text>
<text x="1004.0" y="518.25" font-family="Liberation Sans, Arial, sans-serif" font-size="7.1" letter-spacing="0.35" fill="#3d404a" stroke="#3d404a" text-anchor="middle">20.00</text>
<rect x="991.5" y="17.5" width="24.5" height="14.3" rx="2" fill="#fff" stroke="#eef0f3" stroke-width="1"/>
<text x="1003.4" y="27.1" font-family="Liberation Sans, Arial, sans-serif" font-size="7" fill="#3d404a" stroke="#3d404a" text-anchor="middle">USD</text>
<rect x="989" y="217.5" width="26.6" height="8.8" rx="1" fill="#26a69a"/>
<text x="1003.8" y="224.4" font-family="Liberation Sans, Arial, sans-serif" font-size="7.1" letter-spacing="0.35" fill="#fff" stroke="#fff" text-anchor="middle" style="stroke-width:0.1px">15.87</text>
<rect x="989" y="424.2" width="26.8" height="8.8" rx="1" fill="#7e57c2"/>
<text x="1003.8" y="431.1" font-family="Liberation Sans, Arial, sans-serif" font-size="7.1" letter-spacing="0.35" fill="#fff" stroke="#fff" text-anchor="middle" style="stroke-width:0.1px">60.05</text>
<rect x="989" y="449" width="26.8" height="8.8" rx="1" fill="#fdd835"/>
<text x="1003.8" y="455.9" font-family="Liberation Sans, Arial, sans-serif" font-size="7.1" letter-spacing="0.35" fill="#131722" stroke="#131722" text-anchor="middle">48.70</text>
<g clip-path="url(#ct)">
<text x="47.65" y="544" font-family="Liberation Sans, Arial, sans-serif" font-size="7.1" letter-spacing="0.3" fill="#3d404a" stroke="#3d404a" text-anchor="middle" font-weight="bold">5</text>
<text x="87.25" y="544" font-family="Liberation Sans, Arial, sans-serif" font-size="7.1" letter-spacing="0.3" fill="#3d404a" stroke="#3d404a" text-anchor="middle">09:00</text>
<text x="136.75" y="544" font-family="Liberation Sans, Arial, sans-serif" font-size="7.1" letter-spacing="0.3" fill="#3d404a" stroke="#3d404a" text-anchor="middle">6</text>
<text x="196.95000000000002" y="544" font-family="Liberation Sans, Arial, sans-serif" font-size="7.1" letter-spacing="0.3" fill="#3d404a" stroke="#3d404a" text-anchor="middle">12:00</text>
<text x="227.45000000000002" y="544" font-family="Liberation Sans, Arial, sans-serif" font-size="7.1" letter-spacing="0.3" fill="#3d404a" stroke="#3d404a" text-anchor="middle">7</text>
<text x="266.95" y="544" font-family="Liberation Sans, Arial, sans-serif" font-size="7.1" letter-spacing="0.3" fill="#3d404a" stroke="#3d404a" text-anchor="middle">09:00</text>
<text x="316.65" y="544" font-family="Liberation Sans, Arial, sans-serif" font-size="7.1" letter-spacing="0.3" fill="#3d404a" stroke="#3d404a" text-anchor="middle">8</text>
<text x="356.04999999999995" y="544" font-family="Liberation Sans, Arial, sans-serif" font-size="7.1" letter-spacing="0.3" fill="#3d404a" stroke="#3d404a" text-anchor="middle">09:00</text>
<text x="405.54999999999995" y="544" font-family="Liberation Sans, Arial, sans-serif" font-size="7.1" letter-spacing="0.3" fill="#3d404a" stroke="#3d404a" text-anchor="middle">9</text>
<text x="465.95" y="544" font-family="Liberation Sans, Arial, sans-serif" font-size="7.1" letter-spacing="0.3" fill="#3d404a" stroke="#3d404a" text-anchor="middle">12:00</text>
<text x="496.45" y="544" font-family="Liberation Sans, Arial, sans-serif" font-size="7.1" letter-spacing="0.3" fill="#3d404a" stroke="#3d404a" text-anchor="middle" font-weight="bold">12</text>
<text x="536.25" y="544" font-family="Liberation Sans, Arial, sans-serif" font-size="7.1" letter-spacing="0.3" fill="#3d404a" stroke="#3d404a" text-anchor="middle">09:00</text>
<text x="585.9499999999999" y="544" font-family="Liberation Sans, Arial, sans-serif" font-size="7.1" letter-spacing="0.3" fill="#3d404a" stroke="#3d404a" text-anchor="middle">13</text>
<text x="625.35" y="544" font-family="Liberation Sans, Arial, sans-serif" font-size="7.1" letter-spacing="0.3" fill="#3d404a" stroke="#3d404a" text-anchor="middle">09:00</text>
<text x="674.85" y="544" font-family="Liberation Sans, Arial, sans-serif" font-size="7.1" letter-spacing="0.3" fill="#3d404a" stroke="#3d404a" text-anchor="middle">14</text>
<text x="735.05" y="544" font-family="Liberation Sans, Arial, sans-serif" font-size="7.1" letter-spacing="0.3" fill="#3d404a" stroke="#3d404a" text-anchor="middle">12:00</text>
<text x="765.35" y="544" font-family="Liberation Sans, Arial, sans-serif" font-size="7.1" letter-spacing="0.3" fill="#3d404a" stroke="#3d404a" text-anchor="middle">15</text>
<text x="825.85" y="544" font-family="Liberation Sans, Arial, sans-serif" font-size="7.1" letter-spacing="0.3" fill="#3d404a" stroke="#3d404a" text-anchor="middle">12:00</text>
<text x="856.85" y="544" font-family="Liberation Sans, Arial, sans-serif" font-size="7.1" letter-spacing="0.3" fill="#3d404a" stroke="#3d404a" text-anchor="middle">16</text>
<text x="916.4499999999999" y="544" font-family="Liberation Sans, Arial, sans-serif" font-size="7.1" letter-spacing="0.3" fill="#3d404a" stroke="#3d404a" text-anchor="middle">12:00</text>
<text x="947.4499999999999" y="544" font-family="Liberation Sans, Arial, sans-serif" font-size="7.1" letter-spacing="0.3" fill="#3d404a" stroke="#3d404a" text-anchor="middle" font-weight="bold">20</text>
<text x="987.15" y="544" font-family="Liberation Sans, Arial, sans-serif" font-size="7.1" letter-spacing="0.3" fill="#3d404a" stroke="#3d404a" text-anchor="middle">09:00</text>
</g>
<g transform="translate(6.8,559.4) scale(0.46)" fill="#131722"><path d="M14 22H7V11H0V4h14v18zM28 22h-8l7.5-18h8L28 22z"/><circle cx="20" cy="8" r="4"/></g>
<text x="28.3" y="570" font-family="Liberation Sans, Arial, sans-serif" font-size="11.6" font-weight="bold" fill="#131722" stroke="#131722" style="stroke-width:0">TradingView</text>
</svg>
</body></html>
